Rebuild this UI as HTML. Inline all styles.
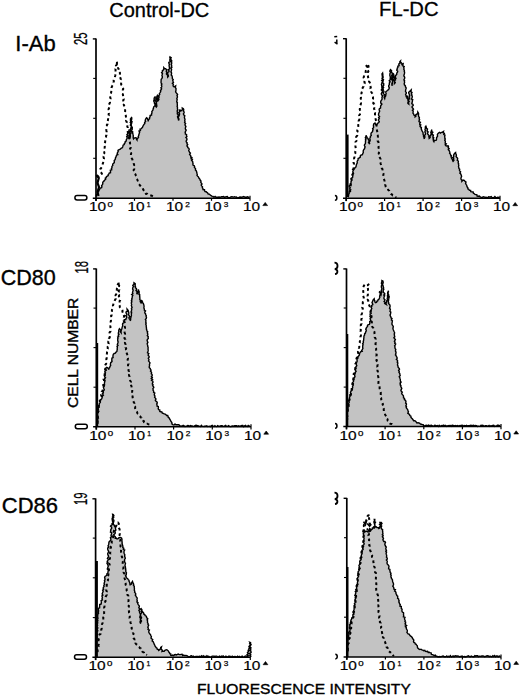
<!DOCTYPE html><html><head><meta charset="utf-8"><style>html,body{margin:0;padding:0;background:#fff;width:520px;height:698px;overflow:hidden;}svg{display:block;position:absolute;left:0;top:0;}text{font-family:"Liberation Sans",sans-serif;fill:#000;}</style></head><body>
<svg width="520" height="698" viewBox="0 0 520 698">
<text x="109.3" y="16.9" font-size="20" stroke="#000" stroke-width="0.3">Control-DC</text>
<text x="379.1" y="16.0" font-size="20" textLength="59.4" lengthAdjust="spacingAndGlyphs" stroke="#000" stroke-width="0.3">FL-DC</text>
<text x="15.3" y="51.2" font-size="22" stroke="#000" stroke-width="0.35">I-Ab</text>
<text x="0.7" y="284.5" font-size="21.5" stroke="#000" stroke-width="0.35">CD80</text>
<text x="1.8" y="513.0" font-size="21.5" textLength="56.2" lengthAdjust="spacingAndGlyphs" stroke="#000" stroke-width="0.35">CD86</text>
<text transform="translate(77.8,408.0) rotate(-90)" font-size="14" textLength="110.2" lengthAdjust="spacingAndGlyphs" stroke="#000" stroke-width="0.35">CELL NUMBER</text>
<text x="196.9" y="693.6" font-size="14" textLength="213.9" lengthAdjust="spacingAndGlyphs" stroke="#000" stroke-width="0.35">FLUORESCENCE INTENSITY</text>
<g><polygon points="96.3,198.2 96.3,196.5 96.4,195.5 96.6,194.6 97.6,194.0 97.8,193.0 97.7,191.8 98.8,191.1 99.1,190.1 99.7,189.2 100.3,188.0 101.6,187.7 101.9,186.7 101.6,185.6 102.4,184.7 102.8,183.8 102.7,182.6 103.2,181.6 104.1,180.9 104.7,180.0 105.6,179.5 105.3,178.2 106.2,177.7 106.4,176.7 107.3,176.2 108.2,175.7 108.2,174.6 108.9,173.9 109.2,173.0 110.5,172.7 110.5,171.5 110.3,170.3 111.7,169.8 111.4,168.5 112.0,167.7 111.9,166.4 112.8,165.4 112.7,164.2 113.3,163.4 114.3,162.6 114.3,161.5 114.2,160.5 115.0,159.8 115.4,158.9 115.4,157.9 115.9,157.1 116.2,156.2 116.6,155.0 117.8,154.6 117.2,153.5 117.5,152.5 118.2,151.5 118.0,150.4 119.1,149.7 120.3,149.2 121.0,148.4 122.0,148.0 122.6,147.2 122.9,146.2 123.1,145.2 124.2,144.6 124.3,143.5 125.1,142.9 125.1,141.8 126.0,141.2 126.3,140.3 126.4,139.4 127.1,138.6 127.1,137.6 126.7,136.6 127.9,135.9 126.9,134.7 127.5,133.9 127.8,133.0 128.7,132.1 128.9,130.8 129.5,131.7 129.2,132.8 130.0,133.7 129.2,134.8 129.2,135.9 129.6,136.8 129.3,137.9 130.0,138.8 129.8,137.9 130.4,137.0 130.3,136.1 130.3,135.2 130.2,134.3 130.8,133.4 131.0,132.5 130.4,131.5 130.7,130.6 129.9,129.7 130.8,128.8 130.8,127.9 131.3,127.0 131.2,126.1 130.4,125.2 130.6,124.3 131.1,123.4 130.2,122.4 130.9,121.5 130.5,120.6 130.5,119.7 130.5,118.8 131.5,117.9 131.2,117.0 131.8,117.9 131.7,118.9 131.6,119.8 131.0,120.8 132.1,121.7 131.7,122.6 131.6,123.6 131.2,124.6 131.4,125.5 131.4,126.4 132.3,127.3 132.2,128.3 132.3,129.2 131.7,130.2 131.6,131.2 132.8,132.0 132.4,133.0 133.0,133.9 133.1,134.9 133.3,135.8 133.2,136.9 133.2,137.9 133.5,138.8 134.2,138.0 135.3,137.7 136.4,138.1 136.5,139.2 137.0,140.0 137.1,139.1 137.7,138.3 138.5,137.6 138.2,136.5 138.7,135.7 138.8,134.8 139.2,133.9 139.3,133.0 139.7,132.1 139.0,131.0 140.4,130.3 140.0,129.2 141.0,128.8 141.8,128.1 142.5,127.3 142.9,126.3 143.4,125.3 144.0,124.4 144.8,123.5 144.6,122.4 145.6,121.6 145.2,120.4 145.5,119.4 146.0,118.5 146.7,117.7 147.5,118.5 147.7,119.5 148.4,120.3 148.2,121.5 148.0,120.3 148.7,119.4 149.6,118.7 149.5,117.5 150.2,116.7 150.1,115.5 151.6,115.0 151.5,113.8 152.0,112.9 151.8,111.7 152.3,110.8 153.0,110.0 153.1,109.0 153.5,108.0 153.6,107.0 154.4,106.2 154.9,105.2 155.1,104.3 154.4,103.3 154.4,102.3 153.8,101.4 153.8,100.4 154.2,99.4 154.1,98.5 154.4,97.5 155.4,96.5 155.0,97.5 156.0,98.4 156.3,99.3 155.1,100.4 155.8,101.3 156.4,102.2 155.9,103.3 156.7,104.2 156.1,105.2 155.6,106.2 156.3,107.1 156.9,106.2 156.7,105.2 156.2,104.2 156.4,103.3 156.3,102.3 157.2,101.4 156.9,100.4 157.4,99.5 156.8,98.5 156.7,97.5 157.7,96.6 157.3,95.6 156.8,96.7 157.2,97.6 157.5,98.6 157.7,99.5 158.3,100.4 158.9,99.5 158.4,98.4 159.0,97.5 159.0,96.5 158.8,95.4 159.7,94.6 159.4,93.4 160.1,92.6 160.7,91.7 160.4,90.7 161.1,89.8 161.6,88.9 160.9,87.9 161.7,87.0 161.8,86.0 161.2,85.0 161.9,84.1 161.2,83.1 161.0,82.1 161.1,81.2 161.1,80.2 161.2,79.3 161.9,78.4 162.3,77.5 162.3,76.5 161.9,75.5 162.2,74.6 162.5,73.7 161.6,72.6 162.5,71.8 162.3,70.8 163.3,70.0 163.7,68.9 163.8,67.7 164.4,68.5 165.4,68.7 166.2,69.2 166.8,70.1 166.2,71.2 167.0,72.1 166.5,73.2 166.5,74.2 167.5,75.0 167.6,76.0 167.7,77.0 168.4,76.2 168.3,75.2 167.6,74.2 167.7,73.3 167.8,72.4 169.0,71.7 169.0,70.8 168.2,69.7 169.3,69.0 169.6,68.1 169.3,67.1 169.2,66.2 169.1,65.3 169.4,64.3 168.9,63.4 168.8,62.4 170.3,61.6 169.9,60.6 169.8,59.7 170.4,58.8 169.8,57.8 170.0,56.9 171.2,57.7 170.7,58.7 170.8,59.6 171.7,60.5 171.6,61.5 171.6,62.4 171.7,63.4 171.2,64.3 171.7,65.3 171.5,66.2 171.9,67.2 170.8,68.1 171.6,69.1 171.5,70.0 171.3,71.0 170.9,71.9 171.6,72.9 171.5,73.8 171.2,75.0 172.0,75.9 172.3,77.0 172.3,77.9 172.4,78.8 173.2,79.6 172.7,80.6 173.1,81.5 173.5,82.3 172.4,83.3 173.4,84.2 173.1,85.1 173.1,86.0 174.1,86.9 175.6,86.0 175.4,87.0 175.7,87.9 176.1,88.9 175.9,89.8 175.9,90.8 175.6,91.8 176.1,92.7 177.0,93.7 177.6,94.6 177.0,95.5 177.4,96.4 177.4,97.3 176.8,98.2 177.2,99.1 177.1,100.0 176.9,100.9 176.7,101.8 177.4,102.7 177.2,103.6 177.3,104.5 177.4,105.4 177.1,106.3 177.5,107.2 177.4,108.1 177.5,109.0 177.6,110.0 177.1,111.0 177.5,111.9 177.3,112.9 177.3,113.9 178.3,114.8 178.0,115.8 177.5,116.8 177.8,117.7 178.8,118.6 178.9,119.6 178.5,120.6 178.5,119.6 178.1,118.6 178.4,117.7 178.2,116.7 179.1,115.8 179.4,114.9 179.6,113.9 178.7,112.8 179.5,112.0 179.5,111.0 179.4,110.0 180.4,110.1 180.9,111.0 181.8,110.3 182.4,109.4 182.3,108.1 183.4,108.8 183.8,110.0 183.3,111.0 184.1,111.9 184.1,112.9 183.4,113.9 183.7,114.9 184.8,115.7 184.5,116.7 184.4,117.7 184.8,118.7 185.0,119.6 184.7,120.6 185.0,121.5 184.6,122.6 185.6,123.4 185.0,124.5 185.2,125.4 185.9,126.3 185.6,127.3 185.3,128.3 185.5,129.3 186.2,130.2 185.7,131.2 185.1,132.2 185.5,133.0 185.3,134.0 186.6,134.7 186.5,135.7 186.9,136.5 185.9,137.5 186.7,138.4 187.0,139.3 186.7,140.2 186.1,141.2 186.3,142.0 187.2,142.9 186.9,143.8 187.7,144.6 186.9,145.9 187.7,146.7 187.8,147.7 188.9,148.4 189.2,149.4 188.7,150.6 189.2,151.5 189.6,152.4 190.4,153.1 189.6,154.4 190.3,155.2 190.8,156.0 190.7,157.0 191.9,157.6 191.1,158.7 192.4,159.3 191.6,160.5 192.4,161.2 192.8,162.0 192.8,163.0 193.1,163.8 192.9,164.9 194.1,165.5 194.6,166.3 194.4,167.4 195.1,168.1 195.6,168.9 195.4,170.0 196.2,170.7 196.6,171.6 196.8,172.5 197.0,173.5 197.3,174.3 197.0,175.4 197.7,176.2 198.4,176.8 198.7,177.7 199.2,178.5 200.0,179.3 200.2,180.3 201.0,181.1 200.8,182.3 201.4,183.1 202.0,183.9 201.2,185.1 201.7,185.9 202.5,186.7 202.3,187.7 202.9,188.5 203.0,189.6 204.5,189.7 204.6,190.8 205.1,191.7 206.2,191.8 206.9,192.4 207.7,193.0 208.2,194.0 209.3,194.1 210.0,194.8 210.8,195.4 211.8,196.1 213.1,196.4 214.0,197.2 215.1,196.4 216.0,197.2 217.0,197.1 218.0,197.2 219.0,197.0 220.0,197.2 220.9,197.0 221.8,196.6 222.7,196.7 223.7,196.6 224.6,197.5 225.5,196.9 226.4,196.7 227.3,196.6 228.2,197.7 229.1,197.7 230.0,197.4 230.9,196.9 231.9,196.8 232.8,196.9 233.7,197.1 234.6,196.7 235.5,197.1 236.4,196.9 237.3,197.8 238.2,197.9 239.2,197.3 240.1,196.8 241.0,197.9 241.9,196.9 242.8,197.0 243.7,196.5 244.6,197.0 245.5,197.2 246.5,197.2 247.4,196.8 248.3,197.2 249.2,197.2 249.2,198.2" fill="#c3c3c3" stroke="none"/><polyline points="96.5,176.0 98.2,176.5 98.9,175.4 100.0,175.0 100.8,174.1 102.0,173.8 101.2,172.7 100.3,171.8 100.0,170.4 100.3,169.0 101.2,168.0 102.0,167.0 102.0,165.9 102.5,164.9 102.7,163.8 103.1,162.8 103.2,161.7 103.5,160.7 103.5,159.6 104.0,158.6 103.6,157.5 103.6,156.4 104.4,155.4 103.6,154.3 104.3,153.3 104.3,152.2 103.8,151.1 104.7,150.1 104.8,149.0 104.6,147.9 104.8,146.9 104.7,145.8 105.1,144.7 104.6,143.4 105.1,142.3 105.2,141.2 105.3,140.0 105.8,139.1 105.9,138.0 106.1,137.1 106.0,136.0 106.5,135.1 106.4,134.0 106.4,133.0 106.7,131.9 106.4,130.7 106.3,129.5 106.5,128.4 107.0,127.3 107.0,126.1 106.8,124.9 107.7,123.9 107.5,122.7 107.6,121.5 107.9,120.5 108.0,119.5 108.2,118.4 108.2,117.4 107.8,116.3 108.8,115.4 108.6,114.3 108.9,113.3 108.7,112.3 108.8,111.3 109.0,110.3 108.5,109.3 109.0,108.3 109.4,107.2 109.1,106.0 109.0,104.8 109.4,103.7 110.0,102.6 109.9,101.4 109.7,100.4 110.3,99.4 110.6,98.4 110.2,97.4 110.1,96.4 110.3,95.4 110.5,94.3 110.9,93.3 111.2,92.3 111.3,91.2 111.5,90.1 111.6,89.0 111.5,87.8 111.9,86.7 112.4,85.6 113.2,84.6 113.3,83.4 113.4,82.4 113.9,81.4 113.6,80.3 113.8,79.4 114.3,78.4 114.9,77.5 115.0,76.5 115.3,75.4 115.4,74.4 115.1,73.3 115.5,72.2 115.5,71.1 115.6,70.0 115.4,68.9 115.9,67.9 116.4,66.9 115.9,65.7 116.8,64.7 116.9,63.6 116.2,62.4 116.8,61.4 117.0,62.5 116.9,63.6 116.9,64.7 117.6,65.7 118.0,66.8 118.0,67.9 118.6,68.8 118.2,70.1 119.3,70.8 119.2,72.0 120.0,72.9 119.9,74.0 119.8,75.1 120.6,76.0 121.0,77.0 120.4,78.1 120.8,79.2 120.5,80.3 120.8,81.3 121.3,82.3 121.1,83.4 121.2,84.6 122.0,85.5 122.8,86.5 122.8,87.7 123.3,88.8 122.8,90.0 122.8,91.2 123.0,92.3 123.2,93.4 122.8,94.6 123.1,95.7 123.2,96.8 122.9,98.0 123.8,99.1 123.2,100.3 123.6,101.4 123.4,102.5 124.3,103.4 123.7,104.6 124.1,105.6 124.5,106.6 124.3,107.8 125.0,108.9 125.1,110.0 125.2,111.2 124.8,112.4 125.4,113.5 125.4,114.5 125.8,115.5 125.9,116.6 126.2,117.6 126.5,118.6 126.6,119.6 126.0,120.7 126.7,121.7 126.6,122.7 126.3,123.8 127.2,124.6 127.3,125.6 127.3,126.6 127.8,127.6 127.8,128.6 127.8,129.6 127.5,130.8 127.8,132.0 128.0,133.1 128.4,134.2 128.3,135.4 128.9,136.5 128.6,137.6 129.2,138.5 129.2,139.5 130.0,140.4 129.5,141.5 130.0,142.5 130.1,143.5 129.9,144.5 130.1,145.5 130.5,146.5 130.8,147.5 130.0,148.5 130.9,149.5 130.7,150.5 130.7,151.5 131.0,152.5 131.2,153.5 130.9,154.5 130.9,155.6 131.7,156.5 131.5,157.5 131.8,158.5 132.4,159.4 132.5,160.5 133.0,161.5 133.6,162.4 133.7,163.5 134.1,164.6 134.1,165.7 133.5,166.8 133.9,167.9 134.3,169.0 133.6,170.1 134.1,171.2 134.0,172.4 134.8,173.4 135.5,174.3 135.8,175.5 136.2,176.5 136.3,177.7 136.5,178.8 137.3,179.6 137.7,180.6 138.2,181.6 138.4,182.7 138.6,183.8 139.4,184.6 139.9,185.5 140.9,186.0 141.6,186.7 142.3,187.5 142.7,188.5 143.2,189.4 143.6,190.3 144.2,191.2 144.2,192.3 145.3,192.7 145.9,193.9 147.3,193.8 148.1,194.7 150.0,195.2 151.0,195.5 152.0,195.8 152.9,196.3 154.1,196.0 155.0,196.5" fill="none" stroke="#000" stroke-width="2.0" stroke-dasharray="2.8,3.0" stroke-linejoin="round"/><polyline points="96.3,196.5 96.4,195.5 96.6,194.6 97.6,194.0 97.8,193.0 97.7,191.8 98.8,191.1 99.1,190.1 99.7,189.2 100.3,188.0 101.6,187.7 101.9,186.7 101.6,185.6 102.4,184.7 102.8,183.8 102.7,182.6 103.2,181.6 104.1,180.9 104.7,180.0 105.6,179.5 105.3,178.2 106.2,177.7 106.4,176.7 107.3,176.2 108.2,175.7 108.2,174.6 108.9,173.9 109.2,173.0 110.5,172.7 110.5,171.5 110.3,170.3 111.7,169.8 111.4,168.5 112.0,167.7 111.9,166.4 112.8,165.4 112.7,164.2 113.3,163.4 114.3,162.6 114.3,161.5 114.2,160.5 115.0,159.8 115.4,158.9 115.4,157.9 115.9,157.1 116.2,156.2 116.6,155.0 117.8,154.6 117.2,153.5 117.5,152.5 118.2,151.5 118.0,150.4 119.1,149.7 120.3,149.2 121.0,148.4 122.0,148.0 122.6,147.2 122.9,146.2 123.1,145.2 124.2,144.6 124.3,143.5 125.1,142.9 125.1,141.8 126.0,141.2 126.3,140.3 126.4,139.4 127.1,138.6 127.1,137.6 126.7,136.6 127.9,135.9 126.9,134.7 127.5,133.9 127.8,133.0 128.7,132.1 128.9,130.8 129.5,131.7 129.2,132.8 130.0,133.7 129.2,134.8 129.2,135.9 129.6,136.8 129.3,137.9 130.0,138.8 129.8,137.9 130.4,137.0 130.3,136.1 130.3,135.2 130.2,134.3 130.8,133.4 131.0,132.5 130.4,131.5 130.7,130.6 129.9,129.7 130.8,128.8 130.8,127.9 131.3,127.0 131.2,126.1 130.4,125.2 130.6,124.3 131.1,123.4 130.2,122.4 130.9,121.5 130.5,120.6 130.5,119.7 130.5,118.8 131.5,117.9 131.2,117.0 131.8,117.9 131.7,118.9 131.6,119.8 131.0,120.8 132.1,121.7 131.7,122.6 131.6,123.6 131.2,124.6 131.4,125.5 131.4,126.4 132.3,127.3 132.2,128.3 132.3,129.2 131.7,130.2 131.6,131.2 132.8,132.0 132.4,133.0 133.0,133.9 133.1,134.9 133.3,135.8 133.2,136.9 133.2,137.9 133.5,138.8 134.2,138.0 135.3,137.7 136.4,138.1 136.5,139.2 137.0,140.0 137.1,139.1 137.7,138.3 138.5,137.6 138.2,136.5 138.7,135.7 138.8,134.8 139.2,133.9 139.3,133.0 139.7,132.1 139.0,131.0 140.4,130.3 140.0,129.2 141.0,128.8 141.8,128.1 142.5,127.3 142.9,126.3 143.4,125.3 144.0,124.4 144.8,123.5 144.6,122.4 145.6,121.6 145.2,120.4 145.5,119.4 146.0,118.5 146.7,117.7 147.5,118.5 147.7,119.5 148.4,120.3 148.2,121.5 148.0,120.3 148.7,119.4 149.6,118.7 149.5,117.5 150.2,116.7 150.1,115.5 151.6,115.0 151.5,113.8 152.0,112.9 151.8,111.7 152.3,110.8 153.0,110.0 153.1,109.0 153.5,108.0 153.6,107.0 154.4,106.2 154.9,105.2 155.1,104.3 154.4,103.3 154.4,102.3 153.8,101.4 153.8,100.4 154.2,99.4 154.1,98.5 154.4,97.5 155.4,96.5 155.0,97.5 156.0,98.4 156.3,99.3 155.1,100.4 155.8,101.3 156.4,102.2 155.9,103.3 156.7,104.2 156.1,105.2 155.6,106.2 156.3,107.1 156.9,106.2 156.7,105.2 156.2,104.2 156.4,103.3 156.3,102.3 157.2,101.4 156.9,100.4 157.4,99.5 156.8,98.5 156.7,97.5 157.7,96.6 157.3,95.6 156.8,96.7 157.2,97.6 157.5,98.6 157.7,99.5 158.3,100.4 158.9,99.5 158.4,98.4 159.0,97.5 159.0,96.5 158.8,95.4 159.7,94.6 159.4,93.4 160.1,92.6 160.7,91.7 160.4,90.7 161.1,89.8 161.6,88.9 160.9,87.9 161.7,87.0 161.8,86.0 161.2,85.0 161.9,84.1 161.2,83.1 161.0,82.1 161.1,81.2 161.1,80.2 161.2,79.3 161.9,78.4 162.3,77.5 162.3,76.5 161.9,75.5 162.2,74.6 162.5,73.7 161.6,72.6 162.5,71.8 162.3,70.8 163.3,70.0 163.7,68.9 163.8,67.7 164.4,68.5 165.4,68.7 166.2,69.2 166.8,70.1 166.2,71.2 167.0,72.1 166.5,73.2 166.5,74.2 167.5,75.0 167.6,76.0 167.7,77.0 168.4,76.2 168.3,75.2 167.6,74.2 167.7,73.3 167.8,72.4 169.0,71.7 169.0,70.8 168.2,69.7 169.3,69.0 169.6,68.1 169.3,67.1 169.2,66.2 169.1,65.3 169.4,64.3 168.9,63.4 168.8,62.4 170.3,61.6 169.9,60.6 169.8,59.7 170.4,58.8 169.8,57.8 170.0,56.9 171.2,57.7 170.7,58.7 170.8,59.6 171.7,60.5 171.6,61.5 171.6,62.4 171.7,63.4 171.2,64.3 171.7,65.3 171.5,66.2 171.9,67.2 170.8,68.1 171.6,69.1 171.5,70.0 171.3,71.0 170.9,71.9 171.6,72.9 171.5,73.8 171.2,75.0 172.0,75.9 172.3,77.0 172.3,77.9 172.4,78.8 173.2,79.6 172.7,80.6 173.1,81.5 173.5,82.3 172.4,83.3 173.4,84.2 173.1,85.1 173.1,86.0 174.1,86.9 175.6,86.0 175.4,87.0 175.7,87.9 176.1,88.9 175.9,89.8 175.9,90.8 175.6,91.8 176.1,92.7 177.0,93.7 177.6,94.6 177.0,95.5 177.4,96.4 177.4,97.3 176.8,98.2 177.2,99.1 177.1,100.0 176.9,100.9 176.7,101.8 177.4,102.7 177.2,103.6 177.3,104.5 177.4,105.4 177.1,106.3 177.5,107.2 177.4,108.1 177.5,109.0 177.6,110.0 177.1,111.0 177.5,111.9 177.3,112.9 177.3,113.9 178.3,114.8 178.0,115.8 177.5,116.8 177.8,117.7 178.8,118.6 178.9,119.6 178.5,120.6 178.5,119.6 178.1,118.6 178.4,117.7 178.2,116.7 179.1,115.8 179.4,114.9 179.6,113.9 178.7,112.8 179.5,112.0 179.5,111.0 179.4,110.0 180.4,110.1 180.9,111.0 181.8,110.3 182.4,109.4 182.3,108.1 183.4,108.8 183.8,110.0 183.3,111.0 184.1,111.9 184.1,112.9 183.4,113.9 183.7,114.9 184.8,115.7 184.5,116.7 184.4,117.7 184.8,118.7 185.0,119.6 184.7,120.6 185.0,121.5 184.6,122.6 185.6,123.4 185.0,124.5 185.2,125.4 185.9,126.3 185.6,127.3 185.3,128.3 185.5,129.3 186.2,130.2 185.7,131.2 185.1,132.2 185.5,133.0 185.3,134.0 186.6,134.7 186.5,135.7 186.9,136.5 185.9,137.5 186.7,138.4 187.0,139.3 186.7,140.2 186.1,141.2 186.3,142.0 187.2,142.9 186.9,143.8 187.7,144.6 186.9,145.9 187.7,146.7 187.8,147.7 188.9,148.4 189.2,149.4 188.7,150.6 189.2,151.5 189.6,152.4 190.4,153.1 189.6,154.4 190.3,155.2 190.8,156.0 190.7,157.0 191.9,157.6 191.1,158.7 192.4,159.3 191.6,160.5 192.4,161.2 192.8,162.0 192.8,163.0 193.1,163.8 192.9,164.9 194.1,165.5 194.6,166.3 194.4,167.4 195.1,168.1 195.6,168.9 195.4,170.0 196.2,170.7 196.6,171.6 196.8,172.5 197.0,173.5 197.3,174.3 197.0,175.4 197.7,176.2 198.4,176.8 198.7,177.7 199.2,178.5 200.0,179.3 200.2,180.3 201.0,181.1 200.8,182.3 201.4,183.1 202.0,183.9 201.2,185.1 201.7,185.9 202.5,186.7 202.3,187.7 202.9,188.5 203.0,189.6 204.5,189.7 204.6,190.8 205.1,191.7 206.2,191.8 206.9,192.4 207.7,193.0 208.2,194.0 209.3,194.1 210.0,194.8 210.8,195.4 211.8,196.1 213.1,196.4 214.0,197.2 215.1,196.4 216.0,197.2 217.0,197.1 218.0,197.2 219.0,197.0 220.0,197.2 220.9,197.0 221.8,196.6 222.7,196.7 223.7,196.6 224.6,197.5 225.5,196.9 226.4,196.7 227.3,196.6 228.2,197.7 229.1,197.7 230.0,197.4 230.9,196.9 231.9,196.8 232.8,196.9 233.7,197.1 234.6,196.7 235.5,197.1 236.4,196.9 237.3,197.8 238.2,197.9 239.2,197.3 240.1,196.8 241.0,197.9 241.9,196.9 242.8,197.0 243.7,196.5 244.6,197.0 245.5,197.2 246.5,197.2 247.4,196.8 248.3,197.2 249.2,197.2" fill="none" stroke="#000" stroke-width="1.4" stroke-linejoin="miter"/><path d="M96.5,175 L98.8,178 L97.5,183 L99,187 L97.5,192 L98.5,196" fill="none" stroke="#000" stroke-width="2.2"/><line x1="96.0" y1="38.5" x2="96.0" y2="201.0" stroke="#000" stroke-width="1.7"/><line x1="92.8" y1="38.9" x2="96.0" y2="38.9" stroke="#000" stroke-width="1.4"/><line x1="92.8" y1="198.2" x2="250.0" y2="198.2" stroke="#000" stroke-width="1.5"/><line x1="93.2" y1="78.4" x2="96.0" y2="78.4" stroke="#000" stroke-width="1.1"/><line x1="93.2" y1="118.3" x2="96.0" y2="118.3" stroke="#000" stroke-width="1.1"/><line x1="93.2" y1="158.3" x2="96.0" y2="158.3" stroke="#000" stroke-width="1.1"/><line x1="96.0" y1="198.2" x2="96.0" y2="200.79999999999998" stroke="#000" stroke-width="1.2"/><line x1="134.5" y1="198.2" x2="134.5" y2="200.79999999999998" stroke="#000" stroke-width="1.2"/><line x1="173.0" y1="198.2" x2="173.0" y2="200.79999999999998" stroke="#000" stroke-width="1.2"/><line x1="211.5" y1="198.2" x2="211.5" y2="200.79999999999998" stroke="#000" stroke-width="1.2"/><line x1="250.0" y1="195.7" x2="250.0" y2="200.79999999999998" stroke="#000" stroke-width="1.2"/><text x="88.9" y="211.3" font-size="13" textLength="17.2" lengthAdjust="spacingAndGlyphs" stroke="#000" stroke-width="0.2">10</text><text x="107.4" y="207.3" font-size="8.0" textLength="5.4" lengthAdjust="spacingAndGlyphs" stroke="#000" stroke-width="0.25">0</text><text x="127.4" y="211.3" font-size="13" textLength="17.2" lengthAdjust="spacingAndGlyphs" stroke="#000" stroke-width="0.2">10</text><text x="146.7" y="207.1" font-size="7.2" textLength="3.8" lengthAdjust="spacingAndGlyphs" stroke="#000" stroke-width="0.25">1</text><text x="165.9" y="211.3" font-size="13" textLength="17.2" lengthAdjust="spacingAndGlyphs" stroke="#000" stroke-width="0.2">10</text><text x="185.2" y="207.1" font-size="7.2" textLength="4.6" lengthAdjust="spacingAndGlyphs" stroke="#000" stroke-width="0.25">2</text><text x="204.4" y="211.3" font-size="13" textLength="17.2" lengthAdjust="spacingAndGlyphs" stroke="#000" stroke-width="0.2">10</text><text x="223.7" y="207.1" font-size="7.2" textLength="4.6" lengthAdjust="spacingAndGlyphs" stroke="#000" stroke-width="0.25">3</text><text x="242.9" y="211.3" font-size="13" textLength="17.2" lengthAdjust="spacingAndGlyphs" stroke="#000" stroke-width="0.2">10</text><path d="M262.8,205.6 L265.2,202.4 L267.6,205.6 Z" fill="#000" stroke="#000" stroke-width="0.6" stroke-linejoin="round"/></g>
<g><polygon points="347.8,198.3 347.8,196.5 348.0,195.4 348.4,194.4 349.2,193.5 349.2,192.5 349.3,191.6 350.1,190.7 350.1,189.7 349.7,188.7 350.3,187.8 349.2,186.7 349.3,185.7 350.4,184.8 350.2,183.8 351.1,183.0 350.9,181.9 351.4,181.0 351.6,180.0 351.1,178.9 351.8,178.0 352.7,177.2 352.7,176.2 352.9,175.3 352.6,174.2 353.5,173.4 352.8,172.2 352.9,171.2 353.3,170.2 354.0,169.4 354.5,168.5 355.2,167.6 356.0,166.8 356.2,165.7 356.4,164.6 356.8,163.7 357.3,162.8 357.1,161.7 357.4,160.8 358.1,159.9 358.1,158.5 359.3,157.9 360.3,157.1 360.3,155.8 361.2,155.0 362.4,154.7 362.8,153.5 363.3,152.6 363.2,151.5 363.3,150.5 363.8,149.6 364.5,148.8 364.8,147.8 365.1,146.8 364.4,145.7 364.5,144.7 365.3,143.8 365.5,142.8 365.4,141.8 365.7,140.8 365.4,139.8 366.0,138.9 365.3,137.8 365.8,136.9 366.1,136.0 366.2,135.0 366.1,136.2 366.9,136.8 367.1,137.9 368.0,138.5 368.3,139.4 368.9,140.3 369.2,141.2 368.5,142.5 369.1,143.3 369.7,144.2 369.5,143.2 369.2,142.1 369.9,141.2 370.2,140.2 370.0,139.2 369.8,138.2 370.5,137.2 370.3,136.2 371.3,135.5 370.9,134.2 371.1,133.1 371.9,132.3 372.6,131.5 372.6,130.6 373.1,129.7 372.6,128.7 373.5,127.8 373.6,126.9 373.4,125.9 373.5,125.0 373.9,123.8 375.0,123.0 375.6,124.3 377.0,124.5 377.7,123.3 378.8,122.5 379.3,121.5 378.5,120.6 378.5,119.6 379.3,118.7 378.6,117.7 379.6,116.7 379.0,115.8 378.5,114.8 378.6,113.8 378.9,112.9 379.3,111.9 379.7,111.0 379.1,110.0 379.4,108.7 380.5,108.0 380.6,107.0 380.6,105.9 381.2,105.0 381.9,104.1 380.8,103.1 380.7,102.1 380.8,101.2 381.3,100.3 382.0,99.4 382.1,98.4 381.9,97.4 382.3,96.5 382.3,95.6 381.5,94.6 381.3,93.6 381.8,92.7 382.4,91.8 382.2,90.8 381.3,89.9 382.2,89.0 381.8,88.0 381.9,87.1 381.8,86.2 381.6,85.2 381.4,84.3 381.9,83.4 382.0,82.4 382.9,81.5 381.8,80.5 383.0,79.7 382.0,78.7 382.2,77.8 382.9,76.9 382.9,75.9 382.4,75.0 381.9,74.0 382.6,73.1 382.7,74.0 382.9,75.0 382.1,76.0 383.2,76.9 383.0,77.8 382.3,78.8 383.5,79.7 383.1,80.7 382.5,81.6 382.6,82.6 383.7,83.5 383.7,84.4 383.7,85.4 382.6,86.4 383.6,87.3 382.9,88.3 383.3,89.2 382.9,90.2 383.8,91.0 384.0,91.9 383.2,93.0 383.8,93.9 384.5,94.7 384.0,95.8 384.7,96.6 384.9,97.5 384.7,98.5 384.2,97.4 385.4,96.6 385.8,95.7 385.6,94.7 386.2,93.8 385.8,92.7 385.9,91.6 386.7,91.0 387.6,90.5 388.2,89.8 389.0,88.9 389.3,87.9 388.7,86.6 388.7,85.6 389.3,84.6 389.3,83.7 389.4,82.7 390.1,81.8 389.2,80.8 390.1,79.9 390.1,79.0 390.3,78.1 390.3,77.1 390.1,76.2 389.8,75.2 389.9,74.3 390.0,73.3 390.7,72.4 389.8,71.4 390.0,70.5 390.5,69.6 391.6,70.8 391.3,71.8 392.0,72.7 392.3,73.6 392.4,74.5 391.7,75.5 392.1,76.4 391.2,77.4 391.4,78.3 391.3,79.3 392.3,80.2 392.6,81.1 392.6,82.0 392.1,83.0 391.8,83.9 392.2,84.9 392.2,85.8 391.9,84.9 392.2,84.0 392.5,83.1 392.6,82.2 392.8,81.3 392.9,80.4 392.7,79.5 392.0,78.5 393.1,77.7 392.3,76.7 392.8,75.8 392.5,74.9 393.1,74.0 392.8,73.1 393.6,74.1 393.9,75.3 393.9,76.5 394.3,77.5 394.6,78.5 393.6,79.5 394.1,80.5 394.6,81.5 394.6,82.5 394.5,83.5 395.3,82.7 394.8,81.7 394.5,80.7 395.5,80.0 395.4,79.0 396.0,78.2 394.9,77.1 395.5,76.3 395.7,75.4 396.7,74.4 396.8,73.1 397.5,72.2 397.7,71.3 396.7,70.1 397.2,69.2 397.2,68.2 397.9,67.3 397.8,66.3 399.1,65.7 398.8,64.7 399.0,63.8 400.0,63.2 399.8,61.8 400.5,61.0 400.4,62.0 401.3,62.7 401.9,63.4 401.9,64.4 403.1,63.8 402.9,64.8 402.8,65.8 404.2,66.5 403.7,67.6 404.0,68.5 403.8,69.4 404.4,70.4 404.2,71.3 404.6,72.2 404.5,73.2 404.4,74.1 403.9,75.1 403.9,76.0 404.5,76.9 404.8,77.9 404.4,78.8 403.9,79.8 404.6,80.7 404.4,81.6 404.6,82.6 404.2,83.5 404.4,84.8 405.4,85.8 405.4,86.8 406.1,87.7 406.1,88.6 405.7,89.6 405.6,90.6 405.5,91.6 406.3,92.5 406.3,93.4 405.6,94.4 406.0,95.4 406.3,96.3 406.0,97.3 407.1,96.2 407.6,97.0 406.9,98.1 407.9,98.8 407.8,99.8 408.2,100.6 408.3,101.5 407.9,102.5 407.9,103.5 408.8,104.2 408.7,103.3 408.5,102.4 409.2,101.5 408.6,100.6 408.3,99.6 409.6,98.8 409.0,97.8 409.6,97.0 409.1,96.0 409.8,95.2 409.2,94.2 408.8,93.3 408.7,92.4 409.4,91.5 410.3,90.7 411.2,89.8 411.1,90.7 410.8,91.7 412.0,92.5 411.4,93.5 411.8,94.4 411.7,95.3 412.3,96.2 412.2,97.1 412.0,98.1 411.5,99.0 412.8,99.8 412.3,100.8 412.4,101.7 412.0,102.7 411.8,103.7 413.0,104.5 413.2,105.5 412.1,106.5 412.1,107.4 412.9,108.3 413.5,109.2 412.4,110.3 413.2,111.1 413.1,112.1 413.0,113.3 413.7,114.0 413.9,115.1 415.1,115.7 415.1,116.8 415.9,116.2 415.7,115.0 416.3,114.4 417.3,113.9 417.7,113.1 417.8,112.1 418.4,113.0 418.6,113.9 418.5,114.9 418.5,115.9 418.9,116.9 419.4,117.7 419.1,118.8 419.6,119.6 419.1,120.7 419.0,121.6 420.4,122.3 419.8,123.3 419.7,124.3 420.8,125.0 419.9,126.1 420.5,126.9 421.4,127.6 421.2,128.8 421.6,129.7 421.9,130.7 422.5,131.6 423.0,132.5 423.1,133.4 423.1,134.4 423.6,135.3 423.5,136.3 424.1,137.1 424.3,138.1 424.5,139.0 423.9,138.0 424.9,137.2 424.8,136.3 424.5,135.3 425.4,134.5 425.5,133.6 425.1,132.6 424.9,131.6 425.4,130.8 425.0,129.8 425.1,128.9 425.6,128.0 425.2,127.1 425.9,126.2 426.3,127.2 426.5,128.3 427.5,129.1 427.2,130.3 427.2,131.2 428.2,132.0 427.5,133.1 427.7,134.0 428.3,134.8 429.1,135.6 428.8,136.6 429.1,137.5 429.2,138.4 430.1,137.7 429.3,136.5 430.5,135.9 430.9,135.1 430.9,134.1 431.2,133.2 430.7,132.1 432.0,131.6 431.6,130.5 431.9,129.6 431.4,130.6 431.6,131.6 432.8,132.3 432.1,133.4 432.1,134.4 433.4,135.1 433.2,136.1 432.8,137.1 433.8,137.9 432.9,139.0 433.9,139.8 433.3,140.8 433.9,141.7 434.2,140.7 435.3,140.4 436.3,140.1 436.6,139.0 436.5,138.0 436.9,137.2 437.5,136.4 437.5,135.5 437.4,134.5 437.9,133.7 438.6,133.0 439.4,132.3 440.6,133.1 441.3,132.3 442.4,132.2 443.4,131.6 443.1,132.7 444.4,133.4 443.8,134.5 445.0,135.2 444.7,136.3 444.8,137.3 444.8,138.2 445.3,139.1 444.7,140.2 445.3,141.1 445.4,142.0 445.1,143.0 446.3,143.8 445.2,144.9 446.0,145.8 447.1,146.0 448.1,145.8 448.5,146.7 448.1,147.7 449.1,148.5 448.3,149.6 449.1,150.4 449.4,151.3 449.9,152.2 449.6,153.3 450.4,154.1 450.6,155.0 451.4,155.7 451.0,156.9 452.3,157.5 451.6,158.8 452.7,159.4 452.6,160.5 453.1,161.3 453.9,160.4 453.5,159.3 453.7,158.3 453.4,157.3 453.8,156.3 453.6,155.1 454.1,154.1 454.7,153.2 455.6,152.5 455.7,153.5 456.2,154.5 456.4,155.5 456.1,156.6 456.9,157.5 457.6,158.3 457.6,159.2 457.2,160.3 458.2,161.0 458.4,161.9 458.1,162.9 458.7,163.8 458.5,164.7 458.8,165.6 458.5,166.6 458.8,167.5 458.9,168.4 459.7,169.2 459.4,170.2 459.9,171.1 460.6,171.9 459.8,173.1 460.6,173.8 461.1,174.7 461.4,175.6 461.6,176.5 461.1,177.6 460.9,178.6 461.2,179.5 461.9,180.3 461.9,181.3 463.1,180.0 464.2,180.4 465.0,181.3 466.0,182.1 465.6,183.4 466.1,184.3 466.7,185.2 466.9,186.3 467.2,187.2 467.9,187.8 467.8,188.9 468.8,189.4 469.4,190.3 470.6,190.4 470.8,191.7 471.9,191.9 473.1,192.0 473.4,193.2 474.3,193.7 475.0,194.4 476.0,194.6 476.9,194.8 477.1,196.2 478.1,196.3 479.4,196.0 480.2,197.0 481.3,197.3 482.2,197.9 483.1,196.8 484.0,196.9 484.9,197.4 485.9,197.3 486.8,197.5 487.7,197.7 488.6,196.8 489.5,197.0 490.4,197.0 491.3,196.6 492.2,197.8 493.1,197.6 494.0,197.5 494.9,196.5 495.9,197.7 496.8,197.6 497.7,197.2 498.6,197.5 499.5,197.2 499.5,198.3" fill="#c3c3c3" stroke="none"/><polyline points="347.8,197.0 348.2,196.1 348.3,195.1 348.6,194.1 349.2,193.2 349.4,192.2 350.2,191.5 350.1,190.4 350.6,189.4 350.7,188.3 350.9,187.3 350.9,186.2 350.6,185.1 351.0,184.0 350.9,183.0 351.1,181.9 351.6,180.9 351.6,179.7 351.5,178.6 352.1,177.5 352.6,176.5 352.1,175.2 352.6,174.2 353.1,173.2 352.3,172.0 352.7,171.0 352.7,169.9 353.3,168.9 353.6,167.8 353.5,166.8 353.2,165.7 353.5,164.6 354.0,163.6 353.5,162.4 353.5,161.3 354.3,160.3 354.1,159.2 354.1,158.1 354.5,157.1 354.6,156.2 355.1,155.2 354.8,154.2 355.3,153.2 355.3,152.2 355.3,151.2 355.7,150.2 355.4,149.2 355.7,148.2 355.6,147.2 355.4,146.1 355.4,145.1 355.9,144.1 355.8,143.1 355.5,141.9 356.5,140.9 355.9,139.6 356.4,138.5 356.1,137.4 356.4,136.4 357.3,135.6 356.9,134.5 356.9,133.4 357.0,132.4 357.6,131.5 357.2,130.3 358.0,129.2 358.0,128.1 358.2,126.9 358.3,125.8 358.2,124.6 358.0,123.4 358.7,122.3 358.6,121.1 359.2,120.0 359.4,118.9 359.3,117.7 359.8,116.6 359.1,115.3 360.0,114.3 360.2,113.1 359.9,111.9 360.4,110.8 359.7,109.6 359.9,108.4 359.9,107.3 359.9,106.1 360.5,105.0 360.9,103.9 361.0,102.8 360.8,101.7 361.1,100.6 361.0,99.5 360.7,98.4 361.0,97.3 360.8,96.2 360.9,95.3 361.8,94.4 361.4,93.3 361.7,92.3 362.0,91.4 362.2,90.4 362.0,89.3 362.5,88.3 362.9,87.3 363.6,86.4 363.5,85.3 363.8,84.3 364.7,83.4 364.5,82.3 364.4,81.1 364.6,79.9 364.3,78.8 363.6,77.7 363.9,76.5 364.3,75.3 364.7,74.2 365.5,73.1 365.7,71.9 365.7,70.9 366.3,69.9 366.3,68.9 366.2,67.8 367.0,66.9 366.4,65.8 367.3,64.9 367.2,63.8 367.9,64.9 368.5,66.0 368.5,67.3 368.7,68.4 368.0,69.3 367.6,70.3 368.4,71.4 367.8,72.4 367.7,73.4 367.2,74.3 367.4,75.4 368.0,76.3 368.1,77.4 368.5,78.3 368.4,79.4 369.3,80.3 369.0,81.5 369.7,82.3 370.1,83.3 370.3,84.3 369.9,85.4 370.3,86.3 370.8,87.3 370.4,88.4 371.1,89.3 370.8,90.4 371.1,91.7 371.8,92.8 372.6,93.8 372.4,94.8 372.6,95.8 373.0,96.8 373.0,97.8 373.1,98.8 372.7,99.8 373.2,100.8 373.8,101.9 373.2,103.2 374.2,104.2 374.2,105.4 374.4,106.5 374.3,107.7 374.0,108.8 374.5,109.7 374.7,110.7 374.4,111.8 375.1,112.7 375.0,113.8 375.0,114.8 374.9,115.8 375.0,116.8 375.2,117.8 375.5,118.8 375.8,119.8 376.0,120.8 376.3,121.7 375.8,122.9 376.1,123.8 376.2,124.8 376.6,125.8 377.0,126.9 376.9,128.1 376.7,129.2 377.0,130.4 377.2,131.5 377.7,132.5 377.4,133.5 377.1,134.5 377.8,135.5 377.9,136.5 377.9,137.5 377.8,138.5 377.7,139.7 377.6,140.8 378.4,141.9 378.5,143.1 378.5,144.2 378.3,145.4 378.6,146.5 378.5,147.7 378.9,148.8 378.9,150.0 379.1,151.1 378.9,152.3 378.7,153.6 379.2,154.7 380.0,155.7 379.4,157.0 380.1,158.1 380.6,159.1 380.5,160.3 380.1,161.4 380.4,162.5 380.6,163.5 381.0,164.6 381.3,165.7 381.9,166.8 381.7,168.1 382.5,169.1 382.4,170.4 382.9,171.5 382.9,172.7 383.5,173.8 383.3,175.0 383.4,176.2 383.4,177.4 383.8,178.5 384.2,179.7 384.5,180.8 384.6,181.8 384.9,182.8 385.5,183.8 385.2,184.9 385.6,185.9 385.7,186.9 386.7,188.0 388.0,188.8 388.2,190.0 389.2,190.7 389.7,191.8 390.3,192.7 390.9,193.8 391.9,194.4 392.6,195.4 393.7,195.6 394.5,196.5 395.4,197.2 396.5,197.3" fill="none" stroke="#000" stroke-width="2.0" stroke-dasharray="2.8,3.0" stroke-linejoin="round"/><polyline points="347.8,196.5 348.0,195.4 348.4,194.4 349.2,193.5 349.2,192.5 349.3,191.6 350.1,190.7 350.1,189.7 349.7,188.7 350.3,187.8 349.2,186.7 349.3,185.7 350.4,184.8 350.2,183.8 351.1,183.0 350.9,181.9 351.4,181.0 351.6,180.0 351.1,178.9 351.8,178.0 352.7,177.2 352.7,176.2 352.9,175.3 352.6,174.2 353.5,173.4 352.8,172.2 352.9,171.2 353.3,170.2 354.0,169.4 354.5,168.5 355.2,167.6 356.0,166.8 356.2,165.7 356.4,164.6 356.8,163.7 357.3,162.8 357.1,161.7 357.4,160.8 358.1,159.9 358.1,158.5 359.3,157.9 360.3,157.1 360.3,155.8 361.2,155.0 362.4,154.7 362.8,153.5 363.3,152.6 363.2,151.5 363.3,150.5 363.8,149.6 364.5,148.8 364.8,147.8 365.1,146.8 364.4,145.7 364.5,144.7 365.3,143.8 365.5,142.8 365.4,141.8 365.7,140.8 365.4,139.8 366.0,138.9 365.3,137.8 365.8,136.9 366.1,136.0 366.2,135.0 366.1,136.2 366.9,136.8 367.1,137.9 368.0,138.5 368.3,139.4 368.9,140.3 369.2,141.2 368.5,142.5 369.1,143.3 369.7,144.2 369.5,143.2 369.2,142.1 369.9,141.2 370.2,140.2 370.0,139.2 369.8,138.2 370.5,137.2 370.3,136.2 371.3,135.5 370.9,134.2 371.1,133.1 371.9,132.3 372.6,131.5 372.6,130.6 373.1,129.7 372.6,128.7 373.5,127.8 373.6,126.9 373.4,125.9 373.5,125.0 373.9,123.8 375.0,123.0 375.6,124.3 377.0,124.5 377.7,123.3 378.8,122.5 379.3,121.5 378.5,120.6 378.5,119.6 379.3,118.7 378.6,117.7 379.6,116.7 379.0,115.8 378.5,114.8 378.6,113.8 378.9,112.9 379.3,111.9 379.7,111.0 379.1,110.0 379.4,108.7 380.5,108.0 380.6,107.0 380.6,105.9 381.2,105.0 381.9,104.1 380.8,103.1 380.7,102.1 380.8,101.2 381.3,100.3 382.0,99.4 382.1,98.4 381.9,97.4 382.3,96.5 382.3,95.6 381.5,94.6 381.3,93.6 381.8,92.7 382.4,91.8 382.2,90.8 381.3,89.9 382.2,89.0 381.8,88.0 381.9,87.1 381.8,86.2 381.6,85.2 381.4,84.3 381.9,83.4 382.0,82.4 382.9,81.5 381.8,80.5 383.0,79.7 382.0,78.7 382.2,77.8 382.9,76.9 382.9,75.9 382.4,75.0 381.9,74.0 382.6,73.1 382.7,74.0 382.9,75.0 382.1,76.0 383.2,76.9 383.0,77.8 382.3,78.8 383.5,79.7 383.1,80.7 382.5,81.6 382.6,82.6 383.7,83.5 383.7,84.4 383.7,85.4 382.6,86.4 383.6,87.3 382.9,88.3 383.3,89.2 382.9,90.2 383.8,91.0 384.0,91.9 383.2,93.0 383.8,93.9 384.5,94.7 384.0,95.8 384.7,96.6 384.9,97.5 384.7,98.5 384.2,97.4 385.4,96.6 385.8,95.7 385.6,94.7 386.2,93.8 385.8,92.7 385.9,91.6 386.7,91.0 387.6,90.5 388.2,89.8 389.0,88.9 389.3,87.9 388.7,86.6 388.7,85.6 389.3,84.6 389.3,83.7 389.4,82.7 390.1,81.8 389.2,80.8 390.1,79.9 390.1,79.0 390.3,78.1 390.3,77.1 390.1,76.2 389.8,75.2 389.9,74.3 390.0,73.3 390.7,72.4 389.8,71.4 390.0,70.5 390.5,69.6 391.6,70.8 391.3,71.8 392.0,72.7 392.3,73.6 392.4,74.5 391.7,75.5 392.1,76.4 391.2,77.4 391.4,78.3 391.3,79.3 392.3,80.2 392.6,81.1 392.6,82.0 392.1,83.0 391.8,83.9 392.2,84.9 392.2,85.8 391.9,84.9 392.2,84.0 392.5,83.1 392.6,82.2 392.8,81.3 392.9,80.4 392.7,79.5 392.0,78.5 393.1,77.7 392.3,76.7 392.8,75.8 392.5,74.9 393.1,74.0 392.8,73.1 393.6,74.1 393.9,75.3 393.9,76.5 394.3,77.5 394.6,78.5 393.6,79.5 394.1,80.5 394.6,81.5 394.6,82.5 394.5,83.5 395.3,82.7 394.8,81.7 394.5,80.7 395.5,80.0 395.4,79.0 396.0,78.2 394.9,77.1 395.5,76.3 395.7,75.4 396.7,74.4 396.8,73.1 397.5,72.2 397.7,71.3 396.7,70.1 397.2,69.2 397.2,68.2 397.9,67.3 397.8,66.3 399.1,65.7 398.8,64.7 399.0,63.8 400.0,63.2 399.8,61.8 400.5,61.0 400.4,62.0 401.3,62.7 401.9,63.4 401.9,64.4 403.1,63.8 402.9,64.8 402.8,65.8 404.2,66.5 403.7,67.6 404.0,68.5 403.8,69.4 404.4,70.4 404.2,71.3 404.6,72.2 404.5,73.2 404.4,74.1 403.9,75.1 403.9,76.0 404.5,76.9 404.8,77.9 404.4,78.8 403.9,79.8 404.6,80.7 404.4,81.6 404.6,82.6 404.2,83.5 404.4,84.8 405.4,85.8 405.4,86.8 406.1,87.7 406.1,88.6 405.7,89.6 405.6,90.6 405.5,91.6 406.3,92.5 406.3,93.4 405.6,94.4 406.0,95.4 406.3,96.3 406.0,97.3 407.1,96.2 407.6,97.0 406.9,98.1 407.9,98.8 407.8,99.8 408.2,100.6 408.3,101.5 407.9,102.5 407.9,103.5 408.8,104.2 408.7,103.3 408.5,102.4 409.2,101.5 408.6,100.6 408.3,99.6 409.6,98.8 409.0,97.8 409.6,97.0 409.1,96.0 409.8,95.2 409.2,94.2 408.8,93.3 408.7,92.4 409.4,91.5 410.3,90.7 411.2,89.8 411.1,90.7 410.8,91.7 412.0,92.5 411.4,93.5 411.8,94.4 411.7,95.3 412.3,96.2 412.2,97.1 412.0,98.1 411.5,99.0 412.8,99.8 412.3,100.8 412.4,101.7 412.0,102.7 411.8,103.7 413.0,104.5 413.2,105.5 412.1,106.5 412.1,107.4 412.9,108.3 413.5,109.2 412.4,110.3 413.2,111.1 413.1,112.1 413.0,113.3 413.7,114.0 413.9,115.1 415.1,115.7 415.1,116.8 415.9,116.2 415.7,115.0 416.3,114.4 417.3,113.9 417.7,113.1 417.8,112.1 418.4,113.0 418.6,113.9 418.5,114.9 418.5,115.9 418.9,116.9 419.4,117.7 419.1,118.8 419.6,119.6 419.1,120.7 419.0,121.6 420.4,122.3 419.8,123.3 419.7,124.3 420.8,125.0 419.9,126.1 420.5,126.9 421.4,127.6 421.2,128.8 421.6,129.7 421.9,130.7 422.5,131.6 423.0,132.5 423.1,133.4 423.1,134.4 423.6,135.3 423.5,136.3 424.1,137.1 424.3,138.1 424.5,139.0 423.9,138.0 424.9,137.2 424.8,136.3 424.5,135.3 425.4,134.5 425.5,133.6 425.1,132.6 424.9,131.6 425.4,130.8 425.0,129.8 425.1,128.9 425.6,128.0 425.2,127.1 425.9,126.2 426.3,127.2 426.5,128.3 427.5,129.1 427.2,130.3 427.2,131.2 428.2,132.0 427.5,133.1 427.7,134.0 428.3,134.8 429.1,135.6 428.8,136.6 429.1,137.5 429.2,138.4 430.1,137.7 429.3,136.5 430.5,135.9 430.9,135.1 430.9,134.1 431.2,133.2 430.7,132.1 432.0,131.6 431.6,130.5 431.9,129.6 431.4,130.6 431.6,131.6 432.8,132.3 432.1,133.4 432.1,134.4 433.4,135.1 433.2,136.1 432.8,137.1 433.8,137.9 432.9,139.0 433.9,139.8 433.3,140.8 433.9,141.7 434.2,140.7 435.3,140.4 436.3,140.1 436.6,139.0 436.5,138.0 436.9,137.2 437.5,136.4 437.5,135.5 437.4,134.5 437.9,133.7 438.6,133.0 439.4,132.3 440.6,133.1 441.3,132.3 442.4,132.2 443.4,131.6 443.1,132.7 444.4,133.4 443.8,134.5 445.0,135.2 444.7,136.3 444.8,137.3 444.8,138.2 445.3,139.1 444.7,140.2 445.3,141.1 445.4,142.0 445.1,143.0 446.3,143.8 445.2,144.9 446.0,145.8 447.1,146.0 448.1,145.8 448.5,146.7 448.1,147.7 449.1,148.5 448.3,149.6 449.1,150.4 449.4,151.3 449.9,152.2 449.6,153.3 450.4,154.1 450.6,155.0 451.4,155.7 451.0,156.9 452.3,157.5 451.6,158.8 452.7,159.4 452.6,160.5 453.1,161.3 453.9,160.4 453.5,159.3 453.7,158.3 453.4,157.3 453.8,156.3 453.6,155.1 454.1,154.1 454.7,153.2 455.6,152.5 455.7,153.5 456.2,154.5 456.4,155.5 456.1,156.6 456.9,157.5 457.6,158.3 457.6,159.2 457.2,160.3 458.2,161.0 458.4,161.9 458.1,162.9 458.7,163.8 458.5,164.7 458.8,165.6 458.5,166.6 458.8,167.5 458.9,168.4 459.7,169.2 459.4,170.2 459.9,171.1 460.6,171.9 459.8,173.1 460.6,173.8 461.1,174.7 461.4,175.6 461.6,176.5 461.1,177.6 460.9,178.6 461.2,179.5 461.9,180.3 461.9,181.3 463.1,180.0 464.2,180.4 465.0,181.3 466.0,182.1 465.6,183.4 466.1,184.3 466.7,185.2 466.9,186.3 467.2,187.2 467.9,187.8 467.8,188.9 468.8,189.4 469.4,190.3 470.6,190.4 470.8,191.7 471.9,191.9 473.1,192.0 473.4,193.2 474.3,193.7 475.0,194.4 476.0,194.6 476.9,194.8 477.1,196.2 478.1,196.3 479.4,196.0 480.2,197.0 481.3,197.3 482.2,197.9 483.1,196.8 484.0,196.9 484.9,197.4 485.9,197.3 486.8,197.5 487.7,197.7 488.6,196.8 489.5,197.0 490.4,197.0 491.3,196.6 492.2,197.8 493.1,197.6 494.0,197.5 494.9,196.5 495.9,197.7 496.8,197.6 497.7,197.2 498.6,197.5 499.5,197.2" fill="none" stroke="#000" stroke-width="1.4" stroke-linejoin="miter"/><line x1="347.6" y1="134.6" x2="347.6" y2="197" stroke="#000" stroke-width="2"/><line x1="346.2" y1="38.3" x2="346.2" y2="201.10000000000002" stroke="#000" stroke-width="1.7"/><line x1="343.0" y1="38.699999999999996" x2="346.2" y2="38.699999999999996" stroke="#000" stroke-width="1.4"/><line x1="343.0" y1="198.3" x2="500.0" y2="198.3" stroke="#000" stroke-width="1.5"/><line x1="343.4" y1="78.3" x2="346.2" y2="78.3" stroke="#000" stroke-width="1.1"/><line x1="343.4" y1="118.3" x2="346.2" y2="118.3" stroke="#000" stroke-width="1.1"/><line x1="343.4" y1="158.3" x2="346.2" y2="158.3" stroke="#000" stroke-width="1.1"/><line x1="346.2" y1="198.3" x2="346.2" y2="200.9" stroke="#000" stroke-width="1.2"/><line x1="384.6" y1="198.3" x2="384.6" y2="200.9" stroke="#000" stroke-width="1.2"/><line x1="423.1" y1="198.3" x2="423.1" y2="200.9" stroke="#000" stroke-width="1.2"/><line x1="461.6" y1="198.3" x2="461.6" y2="200.9" stroke="#000" stroke-width="1.2"/><line x1="500.0" y1="195.8" x2="500.0" y2="200.9" stroke="#000" stroke-width="1.2"/><text x="339.1" y="211.4" font-size="13" textLength="17.2" lengthAdjust="spacingAndGlyphs" stroke="#000" stroke-width="0.2">10</text><text x="357.6" y="207.4" font-size="8.0" textLength="5.4" lengthAdjust="spacingAndGlyphs" stroke="#000" stroke-width="0.25">0</text><text x="377.5" y="211.4" font-size="13" textLength="17.2" lengthAdjust="spacingAndGlyphs" stroke="#000" stroke-width="0.2">10</text><text x="396.8" y="207.2" font-size="7.2" textLength="3.8" lengthAdjust="spacingAndGlyphs" stroke="#000" stroke-width="0.25">1</text><text x="416.0" y="211.4" font-size="13" textLength="17.2" lengthAdjust="spacingAndGlyphs" stroke="#000" stroke-width="0.2">10</text><text x="435.3" y="207.2" font-size="7.2" textLength="4.6" lengthAdjust="spacingAndGlyphs" stroke="#000" stroke-width="0.25">2</text><text x="454.4" y="211.4" font-size="13" textLength="17.2" lengthAdjust="spacingAndGlyphs" stroke="#000" stroke-width="0.2">10</text><text x="473.8" y="207.2" font-size="7.2" textLength="4.6" lengthAdjust="spacingAndGlyphs" stroke="#000" stroke-width="0.25">3</text><text x="492.9" y="211.4" font-size="13" textLength="17.2" lengthAdjust="spacingAndGlyphs" stroke="#000" stroke-width="0.2">10</text><path d="M512.8,205.7 L515.2,202.5 L517.6,205.7 Z" fill="#000" stroke="#000" stroke-width="0.6" stroke-linejoin="round"/></g>
<g><polygon points="97.3,426.8 97.3,424.0 97.7,423.0 97.6,422.1 97.9,421.1 97.7,420.1 97.6,419.1 97.4,418.1 97.2,417.2 97.5,416.2 97.8,415.2 97.1,414.2 97.6,413.3 98.2,412.4 98.2,411.4 98.0,410.4 98.4,409.5 98.1,408.4 98.5,407.5 98.7,406.5 99.2,405.6 99.2,404.6 99.3,403.7 99.9,402.8 100.4,402.0 99.6,400.8 100.3,400.0 101.1,399.4 101.8,398.7 102.1,397.7 102.2,396.7 102.5,395.9 103.4,395.1 102.4,393.9 103.2,393.1 103.4,392.2 103.0,391.2 104.0,390.4 104.3,389.5 103.8,388.5 103.4,387.4 104.1,386.6 104.2,385.7 104.6,384.8 104.4,383.8 104.5,382.8 104.7,381.8 105.1,380.8 104.7,379.8 104.6,378.8 105.5,377.8 104.5,376.8 105.0,375.8 105.3,374.9 105.0,373.9 105.5,372.9 104.7,371.9 105.3,371.0 106.3,370.3 105.8,369.1 105.8,368.0 106.7,367.3 107.7,367.8 108.3,368.7 109.0,369.6 108.7,368.5 109.5,367.9 109.8,367.0 110.2,366.2 110.7,365.4 110.4,364.4 110.5,363.5 110.7,362.6 111.6,361.9 112.1,361.1 111.7,360.1 111.9,359.2 111.9,358.1 113.1,357.5 112.9,356.3 113.1,355.2 113.3,354.3 114.2,353.5 115.3,353.2 115.9,352.3 116.9,351.4 117.1,350.0 117.3,349.1 117.2,348.2 117.4,347.2 117.0,346.3 118.0,345.4 117.3,344.5 117.7,343.6 118.0,342.7 118.1,341.7 117.7,340.8 117.8,339.9 117.6,338.9 118.1,338.0 117.6,337.0 118.7,336.2 118.2,335.2 119.0,334.3 118.3,333.3 118.5,332.4 118.8,331.5 118.7,330.5 119.1,329.6 119.4,328.7 120.2,329.5 120.9,330.4 120.4,331.8 121.1,332.7 121.0,331.7 121.2,330.7 121.4,329.7 121.9,328.8 122.0,327.8 122.3,326.9 122.6,326.0 122.7,325.1 122.5,324.2 122.8,323.3 123.9,322.8 124.2,321.9 124.2,320.8 124.3,319.7 125.8,319.5 126.0,318.5 126.7,317.6 126.6,316.7 125.8,315.7 126.9,314.8 126.7,313.9 126.0,312.8 126.1,311.9 127.5,311.1 127.2,310.2 127.1,309.2 127.8,310.0 128.3,310.8 128.6,311.8 128.8,312.8 128.8,313.8 128.6,314.9 129.4,315.8 129.8,316.7 128.9,317.9 129.3,318.9 130.3,319.7 130.0,320.8 130.7,319.9 130.5,318.8 130.9,317.9 130.9,316.8 131.4,315.9 131.4,314.9 131.2,313.8 131.7,312.9 130.9,311.9 131.6,311.1 131.4,310.1 131.8,309.2 131.4,308.3 132.1,307.4 131.7,306.4 131.3,305.5 131.7,304.6 131.4,303.7 131.3,302.7 131.9,301.9 131.3,300.9 132.0,300.0 131.6,299.1 132.1,298.2 132.2,297.3 132.3,296.4 132.8,295.5 131.7,294.5 132.9,293.7 132.5,292.8 132.7,291.9 132.9,291.0 133.2,290.1 132.6,289.1 132.7,288.2 132.9,287.3 133.7,286.5 132.8,285.3 133.7,284.6 134.0,283.7 134.0,282.7 135.2,283.5 135.2,285.0 135.3,285.9 135.5,286.8 135.4,287.8 136.3,288.5 136.7,289.4 136.0,290.5 136.9,291.4 137.1,292.3 136.8,293.4 137.5,294.2 137.1,293.1 138.3,292.4 138.4,291.5 138.2,290.5 138.7,289.6 138.3,290.6 139.1,291.4 139.1,292.3 139.2,293.2 138.9,294.2 139.8,294.9 139.6,295.9 139.8,296.8 139.8,297.7 139.9,298.7 139.8,299.7 140.7,300.5 140.2,301.7 140.9,302.5 141.0,303.5 141.3,302.6 141.2,301.7 141.8,300.9 142.1,300.0 141.8,301.1 142.5,301.8 142.6,302.8 143.3,303.5 143.7,304.4 143.9,305.4 144.1,306.3 143.9,307.3 144.0,308.3 144.4,309.2 144.3,310.2 145.5,310.9 144.8,312.0 144.8,313.0 145.6,313.8 145.6,314.7 146.3,315.6 146.1,316.6 146.5,317.5 146.3,318.4 145.4,319.4 145.9,320.3 145.9,321.3 145.7,322.2 146.2,323.1 145.7,324.1 146.2,325.1 146.2,326.1 146.3,327.1 146.5,328.1 146.4,329.1 146.8,330.0 146.9,331.0 147.7,331.8 147.3,332.9 147.7,333.8 147.8,334.8 147.3,335.7 148.3,336.7 148.1,337.7 148.3,338.6 147.3,339.6 147.1,340.6 147.5,341.5 147.9,342.5 147.2,343.5 147.3,344.4 147.7,345.4 147.7,346.3 148.1,347.2 148.1,348.1 148.0,349.1 148.2,350.0 148.1,350.9 147.9,351.9 147.5,352.8 148.8,353.6 148.2,354.6 148.2,355.5 149.1,356.3 149.1,357.2 148.3,358.3 148.8,359.1 149.0,360.0 148.5,361.0 149.3,361.9 150.0,362.8 149.6,363.9 149.4,364.8 149.6,365.8 149.2,366.8 149.3,367.7 150.2,368.5 150.5,369.3 151.1,370.1 150.5,371.2 151.3,371.9 151.6,372.8 151.3,373.8 152.1,374.6 152.2,375.6 151.4,376.6 152.3,377.5 151.3,378.5 152.6,379.3 151.6,380.4 152.8,381.2 153.0,382.1 152.5,383.1 152.3,384.0 153.1,384.8 152.6,385.8 153.5,386.6 153.8,387.5 152.9,388.6 153.1,389.4 153.1,390.4 153.7,391.2 153.6,392.3 154.8,393.0 154.3,394.2 154.4,395.2 155.0,396.1 154.6,397.3 155.4,398.1 156.0,399.0 155.3,400.2 155.8,401.1 157.0,401.9 157.3,402.9 156.7,404.1 157.1,405.0 157.0,406.1 158.3,406.6 158.4,407.7 158.2,408.8 158.8,409.6 159.8,410.0 159.8,411.4 160.9,411.7 162.0,412.0 162.3,413.1 163.3,413.3 164.2,413.9 165.2,414.2 166.0,414.7 166.5,415.5 167.7,415.5 168.1,416.5 168.3,417.6 169.4,418.1 169.7,419.2 170.4,420.0 170.7,421.0 171.4,421.8 171.9,422.7 171.9,423.9 172.7,424.6 174.0,424.9 175.0,424.0 175.8,424.7 176.8,424.7 177.9,424.7 178.9,424.7 179.6,425.6 180.5,426.3 181.4,425.9 182.3,426.1 183.2,425.4 184.1,425.8 185.0,426.4 185.9,426.2 186.9,425.9 187.8,425.5 188.7,425.6 189.6,426.3 190.5,425.6 191.4,426.0 192.3,425.9 193.2,426.4 194.1,426.3 195.0,425.5 195.9,425.2 196.8,425.5 197.7,425.8 198.6,426.0 199.6,426.4 200.5,426.5 201.4,425.3 202.3,426.4 203.2,426.4 204.1,426.5 205.0,426.0 205.9,426.1 206.8,425.7 207.7,426.5 208.6,426.4 209.5,426.3 210.4,426.6 211.3,425.8 212.2,425.4 213.1,426.1 214.0,426.4 214.9,425.6 215.8,426.4 216.7,426.6 217.6,425.6 218.5,426.1 219.4,426.2 220.3,426.0 221.2,425.6 222.1,425.7 223.0,426.4 223.9,426.4 224.8,425.9 225.7,425.4 226.6,426.4 227.5,426.4 228.4,425.6 229.3,426.1 230.2,426.6 231.1,426.5 232.0,426.0 232.9,426.0 233.8,426.1 234.7,425.6 235.6,425.6 236.5,425.6 237.4,426.3 238.3,425.8 239.2,426.1 240.1,425.9 241.0,426.0 241.9,425.5 242.8,425.4 243.7,426.7 244.6,425.8 245.5,425.4 246.4,426.2 247.3,426.4 248.2,425.5 249.1,426.1 250.0,426.0 250.0,426.8" fill="#c3c3c3" stroke="none"/><polyline points="97.5,424.0 97.4,423.0 97.6,422.0 97.1,421.0 97.2,420.0 98.2,419.0 98.1,418.0 97.8,417.0 97.9,416.0 97.6,415.0 98.2,414.0 97.9,413.0 98.0,412.0 98.6,411.1 98.7,410.1 98.9,409.1 99.3,408.1 98.8,407.0 98.7,405.9 99.1,404.9 99.3,403.9 99.4,402.9 100.0,402.0 99.8,400.9 100.5,400.0 101.0,399.1 100.8,398.0 101.5,397.1 101.7,396.1 101.0,394.9 101.8,394.0 101.8,393.0 101.7,391.9 102.7,391.1 102.5,390.0 102.4,389.0 102.8,388.0 103.0,387.0 103.4,386.1 103.2,385.0 103.1,384.0 103.2,383.0 103.1,382.0 104.0,381.1 104.1,380.1 103.4,379.0 103.4,377.9 103.7,377.0 103.9,376.0 104.6,375.0 104.7,374.0 104.7,373.0 104.5,372.0 104.2,370.9 105.1,370.0 105.2,368.9 105.4,367.9 105.9,366.9 105.1,365.7 105.4,364.7 106.2,363.8 106.1,362.7 106.7,361.6 106.5,360.4 106.3,359.2 106.7,358.1 106.7,356.9 107.1,355.9 106.6,354.8 106.9,353.8 107.0,352.8 107.0,351.8 107.5,350.8 107.3,349.8 107.8,348.8 107.7,347.7 107.7,346.7 108.4,345.8 107.9,344.6 108.7,343.7 108.3,342.6 108.3,341.6 109.3,340.7 109.0,339.6 108.9,338.5 109.7,337.6 109.8,336.6 109.9,335.6 109.3,334.4 109.7,333.5 109.5,332.4 110.5,331.5 110.2,330.4 110.6,329.4 110.5,328.3 110.4,327.2 110.4,326.1 111.0,325.1 110.7,324.0 110.9,322.9 110.6,321.8 111.0,320.8 110.8,319.8 110.7,318.8 111.4,317.8 111.3,316.8 111.0,315.8 111.8,314.8 111.5,313.8 111.5,312.6 111.9,311.5 111.9,310.3 112.2,309.2 112.7,308.1 113.2,307.0 112.9,305.7 113.3,304.6 113.4,303.3 114.1,302.3 114.4,301.1 115.0,300.0 115.6,298.9 115.1,297.6 116.2,296.6 115.5,295.3 116.2,294.2 116.8,293.1 116.7,291.9 116.5,290.7 116.9,289.6 116.9,288.4 117.3,287.3 117.3,286.2 117.5,285.2 117.9,284.1 118.7,283.3 118.5,282.1 118.1,283.2 118.2,284.3 119.2,285.3 119.0,286.4 118.5,287.5 119.0,288.5 119.3,289.7 118.6,290.8 118.9,291.9 118.1,293.0 118.5,294.2 119.2,295.0 118.8,296.2 119.5,297.1 120.0,298.0 120.4,298.9 120.2,300.0 119.6,301.1 119.6,302.3 119.6,303.5 119.0,304.6 119.7,305.7 119.8,307.1 120.8,308.1 121.9,309.1 122.5,310.4 122.4,311.5 122.9,312.7 122.5,313.8 123.6,314.8 124.2,316.2 123.8,317.3 123.7,318.5 124.1,319.7 123.7,320.8 124.5,321.8 124.8,322.9 124.8,324.2 124.7,325.2 124.8,326.2 125.0,327.2 125.0,328.2 124.6,329.2 124.5,330.2 124.4,331.2 124.6,332.3 125.0,333.3 125.1,334.3 124.4,335.3 124.7,336.3 124.6,337.3 124.5,338.3 125.3,339.3 124.7,340.4 125.3,341.3 124.9,342.4 125.1,343.4 125.6,344.4 125.7,345.4 126.3,346.3 125.6,347.5 126.2,348.4 125.9,349.5 126.7,350.4 126.9,351.4 126.4,352.5 126.9,353.5 127.2,354.5 127.5,355.5 127.4,356.6 127.3,357.6 128.0,358.6 127.6,359.6 127.8,360.6 127.9,361.7 128.0,362.7 128.5,363.8 128.0,365.0 128.0,366.2 128.0,367.3 128.7,368.4 128.6,369.6 128.5,370.6 129.0,371.6 128.8,372.7 129.6,373.6 129.0,374.7 129.1,375.7 129.7,376.7 129.8,377.7 129.9,378.7 130.1,379.8 130.2,380.8 130.9,381.8 130.1,383.0 131.0,383.9 130.9,385.0 131.4,385.9 131.6,386.9 131.7,387.9 131.3,389.0 132.2,389.8 132.3,390.8 132.1,391.9 132.0,393.1 132.6,394.2 132.9,395.3 132.5,396.6 132.7,397.7 132.9,398.9 133.2,400.0 133.3,401.2 133.8,402.3 134.4,403.2 133.9,404.4 134.2,405.4 135.1,406.3 135.2,407.3 135.1,408.4 135.3,409.4 135.5,410.4 136.3,411.1 137.0,411.9 137.3,412.9 137.8,413.8 138.9,414.3 139.3,415.5 140.2,416.2 140.5,417.3 141.6,417.7 141.9,418.8 142.5,419.6 142.9,420.6 143.9,421.2 144.0,422.4 144.8,423.1 145.8,423.9 147.1,423.7 148.2,424.2 149.4,424.4 150.5,424.8" fill="none" stroke="#000" stroke-width="2.0" stroke-dasharray="2.8,3.0" stroke-linejoin="round"/><polyline points="97.3,424.0 97.7,423.0 97.6,422.1 97.9,421.1 97.7,420.1 97.6,419.1 97.4,418.1 97.2,417.2 97.5,416.2 97.8,415.2 97.1,414.2 97.6,413.3 98.2,412.4 98.2,411.4 98.0,410.4 98.4,409.5 98.1,408.4 98.5,407.5 98.7,406.5 99.2,405.6 99.2,404.6 99.3,403.7 99.9,402.8 100.4,402.0 99.6,400.8 100.3,400.0 101.1,399.4 101.8,398.7 102.1,397.7 102.2,396.7 102.5,395.9 103.4,395.1 102.4,393.9 103.2,393.1 103.4,392.2 103.0,391.2 104.0,390.4 104.3,389.5 103.8,388.5 103.4,387.4 104.1,386.6 104.2,385.7 104.6,384.8 104.4,383.8 104.5,382.8 104.7,381.8 105.1,380.8 104.7,379.8 104.6,378.8 105.5,377.8 104.5,376.8 105.0,375.8 105.3,374.9 105.0,373.9 105.5,372.9 104.7,371.9 105.3,371.0 106.3,370.3 105.8,369.1 105.8,368.0 106.7,367.3 107.7,367.8 108.3,368.7 109.0,369.6 108.7,368.5 109.5,367.9 109.8,367.0 110.2,366.2 110.7,365.4 110.4,364.4 110.5,363.5 110.7,362.6 111.6,361.9 112.1,361.1 111.7,360.1 111.9,359.2 111.9,358.1 113.1,357.5 112.9,356.3 113.1,355.2 113.3,354.3 114.2,353.5 115.3,353.2 115.9,352.3 116.9,351.4 117.1,350.0 117.3,349.1 117.2,348.2 117.4,347.2 117.0,346.3 118.0,345.4 117.3,344.5 117.7,343.6 118.0,342.7 118.1,341.7 117.7,340.8 117.8,339.9 117.6,338.9 118.1,338.0 117.6,337.0 118.7,336.2 118.2,335.2 119.0,334.3 118.3,333.3 118.5,332.4 118.8,331.5 118.7,330.5 119.1,329.6 119.4,328.7 120.2,329.5 120.9,330.4 120.4,331.8 121.1,332.7 121.0,331.7 121.2,330.7 121.4,329.7 121.9,328.8 122.0,327.8 122.3,326.9 122.6,326.0 122.7,325.1 122.5,324.2 122.8,323.3 123.9,322.8 124.2,321.9 124.2,320.8 124.3,319.7 125.8,319.5 126.0,318.5 126.7,317.6 126.6,316.7 125.8,315.7 126.9,314.8 126.7,313.9 126.0,312.8 126.1,311.9 127.5,311.1 127.2,310.2 127.1,309.2 127.8,310.0 128.3,310.8 128.6,311.8 128.8,312.8 128.8,313.8 128.6,314.9 129.4,315.8 129.8,316.7 128.9,317.9 129.3,318.9 130.3,319.7 130.0,320.8 130.7,319.9 130.5,318.8 130.9,317.9 130.9,316.8 131.4,315.9 131.4,314.9 131.2,313.8 131.7,312.9 130.9,311.9 131.6,311.1 131.4,310.1 131.8,309.2 131.4,308.3 132.1,307.4 131.7,306.4 131.3,305.5 131.7,304.6 131.4,303.7 131.3,302.7 131.9,301.9 131.3,300.9 132.0,300.0 131.6,299.1 132.1,298.2 132.2,297.3 132.3,296.4 132.8,295.5 131.7,294.5 132.9,293.7 132.5,292.8 132.7,291.9 132.9,291.0 133.2,290.1 132.6,289.1 132.7,288.2 132.9,287.3 133.7,286.5 132.8,285.3 133.7,284.6 134.0,283.7 134.0,282.7 135.2,283.5 135.2,285.0 135.3,285.9 135.5,286.8 135.4,287.8 136.3,288.5 136.7,289.4 136.0,290.5 136.9,291.4 137.1,292.3 136.8,293.4 137.5,294.2 137.1,293.1 138.3,292.4 138.4,291.5 138.2,290.5 138.7,289.6 138.3,290.6 139.1,291.4 139.1,292.3 139.2,293.2 138.9,294.2 139.8,294.9 139.6,295.9 139.8,296.8 139.8,297.7 139.9,298.7 139.8,299.7 140.7,300.5 140.2,301.7 140.9,302.5 141.0,303.5 141.3,302.6 141.2,301.7 141.8,300.9 142.1,300.0 141.8,301.1 142.5,301.8 142.6,302.8 143.3,303.5 143.7,304.4 143.9,305.4 144.1,306.3 143.9,307.3 144.0,308.3 144.4,309.2 144.3,310.2 145.5,310.9 144.8,312.0 144.8,313.0 145.6,313.8 145.6,314.7 146.3,315.6 146.1,316.6 146.5,317.5 146.3,318.4 145.4,319.4 145.9,320.3 145.9,321.3 145.7,322.2 146.2,323.1 145.7,324.1 146.2,325.1 146.2,326.1 146.3,327.1 146.5,328.1 146.4,329.1 146.8,330.0 146.9,331.0 147.7,331.8 147.3,332.9 147.7,333.8 147.8,334.8 147.3,335.7 148.3,336.7 148.1,337.7 148.3,338.6 147.3,339.6 147.1,340.6 147.5,341.5 147.9,342.5 147.2,343.5 147.3,344.4 147.7,345.4 147.7,346.3 148.1,347.2 148.1,348.1 148.0,349.1 148.2,350.0 148.1,350.9 147.9,351.9 147.5,352.8 148.8,353.6 148.2,354.6 148.2,355.5 149.1,356.3 149.1,357.2 148.3,358.3 148.8,359.1 149.0,360.0 148.5,361.0 149.3,361.9 150.0,362.8 149.6,363.9 149.4,364.8 149.6,365.8 149.2,366.8 149.3,367.7 150.2,368.5 150.5,369.3 151.1,370.1 150.5,371.2 151.3,371.9 151.6,372.8 151.3,373.8 152.1,374.6 152.2,375.6 151.4,376.6 152.3,377.5 151.3,378.5 152.6,379.3 151.6,380.4 152.8,381.2 153.0,382.1 152.5,383.1 152.3,384.0 153.1,384.8 152.6,385.8 153.5,386.6 153.8,387.5 152.9,388.6 153.1,389.4 153.1,390.4 153.7,391.2 153.6,392.3 154.8,393.0 154.3,394.2 154.4,395.2 155.0,396.1 154.6,397.3 155.4,398.1 156.0,399.0 155.3,400.2 155.8,401.1 157.0,401.9 157.3,402.9 156.7,404.1 157.1,405.0 157.0,406.1 158.3,406.6 158.4,407.7 158.2,408.8 158.8,409.6 159.8,410.0 159.8,411.4 160.9,411.7 162.0,412.0 162.3,413.1 163.3,413.3 164.2,413.9 165.2,414.2 166.0,414.7 166.5,415.5 167.7,415.5 168.1,416.5 168.3,417.6 169.4,418.1 169.7,419.2 170.4,420.0 170.7,421.0 171.4,421.8 171.9,422.7 171.9,423.9 172.7,424.6 174.0,424.9 175.0,424.0 175.8,424.7 176.8,424.7 177.9,424.7 178.9,424.7 179.6,425.6 180.5,426.3 181.4,425.9 182.3,426.1 183.2,425.4 184.1,425.8 185.0,426.4 185.9,426.2 186.9,425.9 187.8,425.5 188.7,425.6 189.6,426.3 190.5,425.6 191.4,426.0 192.3,425.9 193.2,426.4 194.1,426.3 195.0,425.5 195.9,425.2 196.8,425.5 197.7,425.8 198.6,426.0 199.6,426.4 200.5,426.5 201.4,425.3 202.3,426.4 203.2,426.4 204.1,426.5 205.0,426.0 205.9,426.1 206.8,425.7 207.7,426.5 208.6,426.4 209.5,426.3 210.4,426.6 211.3,425.8 212.2,425.4 213.1,426.1 214.0,426.4 214.9,425.6 215.8,426.4 216.7,426.6 217.6,425.6 218.5,426.1 219.4,426.2 220.3,426.0 221.2,425.6 222.1,425.7 223.0,426.4 223.9,426.4 224.8,425.9 225.7,425.4 226.6,426.4 227.5,426.4 228.4,425.6 229.3,426.1 230.2,426.6 231.1,426.5 232.0,426.0 232.9,426.0 233.8,426.1 234.7,425.6 235.6,425.6 236.5,425.6 237.4,426.3 238.3,425.8 239.2,426.1 240.1,425.9 241.0,426.0 241.9,425.5 242.8,425.4 243.7,426.7 244.6,425.8 245.5,425.4 246.4,426.2 247.3,426.4 248.2,425.5 249.1,426.1 250.0,426.0" fill="none" stroke="#000" stroke-width="1.4" stroke-linejoin="miter"/><line x1="97.2" y1="343" x2="97.2" y2="426" stroke="#000" stroke-width="2"/><line x1="96.3" y1="268.5" x2="96.3" y2="429.6" stroke="#000" stroke-width="1.7"/><line x1="93.1" y1="268.9" x2="96.3" y2="268.9" stroke="#000" stroke-width="1.4"/><line x1="93.1" y1="426.8" x2="251.0" y2="426.8" stroke="#000" stroke-width="1.5"/><line x1="93.5" y1="308.1" x2="96.3" y2="308.1" stroke="#000" stroke-width="1.1"/><line x1="93.5" y1="347.6" x2="96.3" y2="347.6" stroke="#000" stroke-width="1.1"/><line x1="93.5" y1="387.2" x2="96.3" y2="387.2" stroke="#000" stroke-width="1.1"/><line x1="96.3" y1="426.8" x2="96.3" y2="429.40000000000003" stroke="#000" stroke-width="1.2"/><line x1="135.0" y1="426.8" x2="135.0" y2="429.40000000000003" stroke="#000" stroke-width="1.2"/><line x1="173.6" y1="426.8" x2="173.6" y2="429.40000000000003" stroke="#000" stroke-width="1.2"/><line x1="212.3" y1="426.8" x2="212.3" y2="429.40000000000003" stroke="#000" stroke-width="1.2"/><line x1="251.0" y1="424.3" x2="251.0" y2="429.40000000000003" stroke="#000" stroke-width="1.2"/><text x="89.2" y="439.9" font-size="13" textLength="17.2" lengthAdjust="spacingAndGlyphs" stroke="#000" stroke-width="0.2">10</text><text x="107.7" y="435.9" font-size="8.0" textLength="5.4" lengthAdjust="spacingAndGlyphs" stroke="#000" stroke-width="0.25">0</text><text x="127.9" y="439.9" font-size="13" textLength="17.2" lengthAdjust="spacingAndGlyphs" stroke="#000" stroke-width="0.2">10</text><text x="147.2" y="435.7" font-size="7.2" textLength="3.8" lengthAdjust="spacingAndGlyphs" stroke="#000" stroke-width="0.25">1</text><text x="166.5" y="439.9" font-size="13" textLength="17.2" lengthAdjust="spacingAndGlyphs" stroke="#000" stroke-width="0.2">10</text><text x="185.8" y="435.7" font-size="7.2" textLength="4.6" lengthAdjust="spacingAndGlyphs" stroke="#000" stroke-width="0.25">2</text><text x="205.2" y="439.9" font-size="13" textLength="17.2" lengthAdjust="spacingAndGlyphs" stroke="#000" stroke-width="0.2">10</text><text x="224.5" y="435.7" font-size="7.2" textLength="4.6" lengthAdjust="spacingAndGlyphs" stroke="#000" stroke-width="0.25">3</text><text x="243.9" y="439.9" font-size="13" textLength="17.2" lengthAdjust="spacingAndGlyphs" stroke="#000" stroke-width="0.2">10</text><path d="M263.8,434.2 L266.2,431.0 L268.6,434.2 Z" fill="#000" stroke="#000" stroke-width="0.6" stroke-linejoin="round"/></g>
<g><polygon points="347.1,426.6 347.1,420.0 347.6,419.1 347.1,418.2 347.0,417.3 347.7,416.4 347.5,415.4 346.9,414.5 346.7,413.6 346.9,412.7 347.0,411.8 347.1,410.9 347.9,410.1 347.8,409.2 348.0,408.3 348.0,407.4 348.2,406.5 347.8,405.5 347.4,404.4 348.2,403.6 349.1,402.8 349.2,401.9 348.5,400.7 349.0,399.9 349.5,399.0 349.5,398.0 349.6,397.0 350.1,396.1 349.7,395.0 350.5,394.2 350.8,393.3 350.4,392.2 350.9,391.3 351.6,390.5 352.4,389.7 352.3,388.7 352.7,387.7 352.5,386.7 352.9,385.8 353.2,384.9 353.4,383.9 352.4,382.7 353.2,381.9 353.6,381.1 353.3,380.1 354.0,379.3 353.7,378.3 354.3,377.5 355.0,376.7 354.8,375.8 354.5,374.8 355.0,374.0 355.1,373.1 355.4,372.2 356.1,371.3 355.3,370.3 355.5,369.3 356.0,368.4 355.4,367.4 356.2,366.5 356.8,365.6 356.3,364.6 356.4,363.6 356.3,362.6 356.9,361.8 357.2,360.9 356.9,359.8 357.1,358.9 357.9,358.1 357.9,356.9 358.6,356.0 359.3,355.2 359.5,354.2 359.7,353.2 360.3,352.3 361.1,351.5 362.2,351.3 361.7,350.3 362.4,349.4 362.9,348.5 362.7,347.5 362.7,346.6 362.7,345.6 363.1,344.7 362.6,343.6 363.4,342.7 363.2,341.7 363.5,340.8 363.7,339.8 363.7,338.8 363.9,337.8 363.9,336.8 364.0,335.9 364.6,335.0 364.6,333.9 365.4,333.1 365.6,332.1 366.1,331.2 366.3,330.2 365.7,329.2 366.3,328.2 366.6,327.3 367.5,326.6 367.5,325.4 368.3,324.6 369.4,324.4 369.7,323.5 369.8,322.5 369.7,321.5 370.9,320.7 370.4,319.6 370.1,318.5 370.8,317.4 369.9,316.3 370.4,315.2 370.0,314.1 371.2,313.3 370.8,312.3 370.4,311.2 371.0,310.3 371.3,309.4 371.8,308.5 371.1,307.4 371.8,306.5 371.6,305.5 372.8,304.7 372.6,303.7 372.0,302.6 372.4,301.7 372.8,300.8 373.3,299.7 374.2,298.8 374.3,299.9 374.8,300.8 374.9,301.9 375.7,302.7 376.6,302.3 376.9,301.3 377.8,300.7 378.1,299.8 379.1,299.1 379.5,297.9 379.9,297.0 379.6,296.0 380.1,295.1 380.1,294.1 380.4,293.2 379.4,292.1 380.0,291.2 379.7,292.3 381.2,292.9 380.4,294.1 381.0,295.0 381.2,294.1 381.1,293.2 381.8,292.3 381.3,291.4 381.2,290.5 381.7,289.6 381.9,288.7 381.6,287.8 381.3,286.9 381.5,286.0 381.6,285.1 382.0,284.2 381.4,283.3 381.6,282.4 381.9,281.5 381.9,280.6 382.9,281.0 383.1,281.9 383.2,282.8 382.6,283.8 382.6,284.7 383.1,285.6 383.2,286.5 383.6,287.5 383.5,288.4 383.8,289.3 383.2,290.3 383.2,291.2 383.4,292.1 384.3,293.1 384.9,294.0 383.8,295.0 384.7,295.9 384.0,296.9 384.0,297.8 383.9,298.8 385.0,299.7 384.7,300.7 384.1,301.6 385.3,302.5 384.7,303.5 386.2,304.4 385.7,303.4 386.5,302.6 386.6,301.7 386.7,300.8 387.4,300.0 387.4,299.0 387.2,298.1 387.9,297.2 387.4,296.2 387.5,295.3 387.9,294.4 387.6,293.4 387.7,292.5 388.2,291.6 388.2,290.7 388.5,291.8 387.8,292.9 388.3,294.0 388.7,295.0 388.7,295.9 389.3,296.9 388.9,297.8 388.8,298.8 388.6,299.7 388.6,300.6 388.2,301.6 388.7,302.5 388.5,303.7 389.6,304.4 390.0,305.4 390.1,306.4 389.9,307.3 389.5,308.3 390.4,309.2 390.2,310.2 389.9,311.2 390.8,312.1 390.7,313.0 390.5,314.0 390.0,315.1 390.3,316.0 390.9,316.9 391.0,317.9 392.0,318.6 391.4,320.1 392.4,320.8 392.2,321.8 392.1,322.8 391.9,323.7 392.1,324.7 392.8,325.6 393.3,326.5 393.1,327.5 392.9,328.5 393.2,329.4 393.6,330.4 393.9,331.3 394.5,332.2 394.6,333.1 394.2,334.1 394.5,335.0 394.4,335.9 394.8,336.8 393.9,337.8 394.5,338.6 395.4,339.5 394.9,340.4 394.4,341.4 395.1,342.2 394.7,343.2 395.7,344.0 395.3,345.0 394.6,345.9 395.0,346.8 394.9,347.7 395.2,348.6 395.8,349.4 395.5,350.4 395.5,351.3 396.1,352.2 395.7,353.2 396.0,354.0 395.4,355.0 396.2,355.9 396.5,356.7 397.1,357.6 397.1,358.5 396.4,359.5 397.5,360.3 397.6,361.2 397.2,362.2 397.9,363.0 397.6,364.0 397.5,365.1 398.0,365.9 398.0,366.9 398.6,367.7 399.3,368.5 399.5,369.4 398.6,370.4 399.3,371.3 398.9,372.2 399.5,373.1 399.9,373.9 399.9,374.9 400.2,375.7 399.2,376.8 399.8,377.6 400.0,378.5 400.3,379.4 400.3,380.3 400.5,381.2 401.1,382.1 400.0,383.1 400.5,384.0 400.1,384.9 401.0,385.8 400.8,386.7 401.4,387.5 401.8,388.4 401.3,389.4 400.9,390.5 401.3,391.4 402.3,392.1 401.7,393.2 402.0,394.1 402.7,394.9 403.4,395.7 403.5,396.8 403.5,397.9 404.5,398.5 404.4,399.7 405.4,400.3 405.9,401.2 405.9,402.1 405.6,403.1 406.4,403.9 406.4,404.8 405.8,405.9 406.5,406.7 406.2,407.7 406.8,408.5 407.5,409.3 407.9,410.1 408.0,411.1 408.5,411.9 407.8,413.2 408.8,413.9 409.6,414.6 409.8,415.6 410.9,416.1 410.9,417.2 411.5,418.0 412.3,418.8 413.0,419.7 413.6,420.7 414.8,420.6 415.6,421.2 416.3,422.1 416.9,422.9 418.0,422.7 418.9,423.0 419.8,423.3 420.4,424.1 421.4,424.2 422.3,424.6 423.2,424.7 423.8,425.7 424.7,425.9 425.6,425.5 426.5,425.2 427.4,426.0 428.3,425.1 429.2,425.4 430.1,426.2 431.1,425.2 432.0,425.6 432.9,426.2 433.8,426.2 434.7,425.3 435.6,425.5 436.5,426.0 437.4,425.6 438.3,426.4 439.2,425.3 440.1,426.4 441.0,425.8 441.9,425.4 442.9,425.7 443.8,425.2 444.7,426.0 445.6,425.4 446.5,426.3 447.4,425.9 448.3,425.6 449.2,425.4 450.1,425.9 451.0,425.4 451.9,426.3 452.8,425.2 453.7,425.8 454.6,425.8 455.6,425.5 456.5,426.2 457.4,425.6 458.3,426.0 459.2,425.9 460.1,425.5 461.0,425.6 461.9,425.2 462.8,425.4 463.7,426.3 464.6,425.6 465.5,426.0 466.4,425.3 467.3,425.9 468.3,425.6 469.2,425.8 470.1,425.5 471.0,425.2 471.9,425.6 472.8,425.4 473.7,425.3 474.6,426.1 475.5,425.5 476.4,425.7 477.3,426.4 478.2,426.2 479.1,426.4 480.0,426.4 481.0,425.3 481.9,425.5 482.8,425.2 483.7,426.1 484.6,426.1 485.5,425.7 486.4,425.7 487.3,426.1 488.2,426.1 489.1,425.5 490.0,426.4 490.9,425.7 491.8,426.1 492.7,425.4 493.7,425.3 494.6,426.5 495.5,426.2 496.4,426.2 497.3,425.2 498.2,425.3 499.1,425.4 500.0,425.9 500.0,426.6" fill="#c3c3c3" stroke="none"/><polyline points="347.8,412.0 347.6,411.0 347.9,410.0 348.1,409.0 347.9,407.9 348.3,407.0 348.8,406.0 348.5,405.0 349.3,404.0 349.1,403.0 349.4,402.0 349.1,401.0 349.5,400.0 349.6,399.0 350.1,398.0 350.0,397.0 349.8,395.9 350.8,395.1 351.0,394.1 350.7,393.0 350.7,391.9 351.6,391.1 351.5,390.0 351.8,389.0 351.4,387.9 351.7,387.0 351.8,385.9 352.6,385.0 352.2,384.0 353.1,383.1 353.1,382.0 352.6,380.9 353.4,380.0 353.2,379.0 353.5,378.0 353.9,377.0 354.1,376.0 353.7,375.0 353.7,373.9 354.7,373.1 354.3,372.0 355.0,371.1 354.9,370.0 355.1,369.0 355.4,368.1 355.3,367.0 355.3,366.0 355.5,365.0 355.3,363.8 356.1,362.9 356.1,361.7 356.4,360.6 357.0,359.6 356.4,358.4 357.2,357.4 356.7,356.2 357.4,355.2 357.8,354.1 358.2,353.0 357.9,351.8 358.4,350.7 359.1,349.7 358.9,348.5 359.2,347.4 359.3,346.2 359.2,345.0 359.2,343.8 359.8,342.7 359.8,341.6 360.0,340.5 360.0,339.3 360.3,338.2 360.3,337.1 360.8,336.0 361.0,334.9 361.0,333.8 360.5,332.7 360.5,331.6 360.8,330.5 360.7,329.4 360.8,328.3 361.3,327.2 360.8,326.0 360.8,324.9 361.5,323.8 360.9,322.6 361.3,321.5 361.4,320.4 361.3,319.3 361.8,318.2 361.6,317.1 361.9,316.0 361.4,314.9 361.8,313.8 362.1,312.8 362.2,311.7 362.1,310.7 362.6,309.7 362.8,308.6 362.2,307.5 362.7,306.5 362.6,305.4 362.8,304.3 362.8,303.2 362.8,302.0 363.2,301.0 363.3,299.9 363.7,298.8 363.8,297.6 363.4,296.5 363.0,295.4 363.1,294.3 363.2,293.1 363.3,292.0 363.2,290.8 363.1,289.7 363.1,288.5 363.1,287.4 363.7,286.3 364.5,284.5 365.3,285.4 366.5,285.5 367.6,285.2 368.5,284.4 368.8,285.6 368.1,286.7 367.7,287.8 368.0,289.0 368.0,290.2 368.3,291.4 367.8,292.5 367.8,293.7 367.9,294.9 367.5,296.0 367.7,297.1 368.4,298.2 367.7,299.5 368.2,300.6 368.5,301.7 368.6,302.9 368.5,304.1 369.1,305.1 369.7,306.2 369.9,307.3 369.9,308.5 370.5,309.6 370.9,310.8 370.4,312.2 370.9,313.3 370.7,314.5 371.3,315.6 371.6,316.7 371.2,317.9 371.5,319.0 371.2,320.1 371.2,321.1 372.0,322.1 371.4,323.2 371.4,324.2 371.5,325.3 371.8,326.3 372.6,327.2 373.4,328.1 373.8,329.2 373.7,330.4 374.3,331.5 374.5,332.7 374.5,333.8 374.7,335.0 375.0,336.1 374.7,337.2 375.4,338.3 375.7,339.3 375.3,340.5 375.4,341.6 375.7,342.7 375.5,343.8 375.6,344.9 375.5,346.0 375.5,347.1 376.1,348.2 376.1,349.3 376.2,350.4 376.6,351.5 376.5,352.7 376.3,353.8 376.8,354.9 376.3,356.1 376.5,357.2 376.9,358.2 376.8,359.3 376.4,360.5 377.4,361.5 377.5,362.5 377.2,363.6 377.6,364.7 377.4,365.8 377.3,366.9 378.1,367.9 377.4,369.0 377.4,370.1 377.6,371.2 378.0,372.2 378.1,373.3 378.3,374.3 378.0,375.4 378.2,376.5 378.4,377.6 378.5,378.7 378.5,379.7 378.3,380.8 378.5,381.9 378.4,383.0 378.5,384.1 379.4,385.1 379.5,386.2 379.6,387.3 379.6,388.4 380.0,389.4 380.1,390.5 380.6,391.5 380.8,392.6 380.7,393.7 380.8,394.8 380.4,395.9 380.6,397.0 381.2,398.0 381.2,399.2 381.4,400.3 381.7,401.4 382.4,402.4 382.8,403.4 382.6,404.5 383.5,405.5 383.1,406.6 383.3,407.7 383.8,408.7 383.7,409.8 383.9,410.9 383.9,412.1 384.7,413.0 385.0,414.2 385.5,415.2 386.1,416.2 386.5,417.3 386.4,418.6 387.6,419.3 387.6,420.6 388.5,421.2 388.8,422.3 389.7,423.0 390.3,423.8 391.8,424.0 393.0,425.0" fill="none" stroke="#000" stroke-width="2.0" stroke-dasharray="2.8,3.0" stroke-linejoin="round"/><polyline points="347.1,420.0 347.6,419.1 347.1,418.2 347.0,417.3 347.7,416.4 347.5,415.4 346.9,414.5 346.7,413.6 346.9,412.7 347.0,411.8 347.1,410.9 347.9,410.1 347.8,409.2 348.0,408.3 348.0,407.4 348.2,406.5 347.8,405.5 347.4,404.4 348.2,403.6 349.1,402.8 349.2,401.9 348.5,400.7 349.0,399.9 349.5,399.0 349.5,398.0 349.6,397.0 350.1,396.1 349.7,395.0 350.5,394.2 350.8,393.3 350.4,392.2 350.9,391.3 351.6,390.5 352.4,389.7 352.3,388.7 352.7,387.7 352.5,386.7 352.9,385.8 353.2,384.9 353.4,383.9 352.4,382.7 353.2,381.9 353.6,381.1 353.3,380.1 354.0,379.3 353.7,378.3 354.3,377.5 355.0,376.7 354.8,375.8 354.5,374.8 355.0,374.0 355.1,373.1 355.4,372.2 356.1,371.3 355.3,370.3 355.5,369.3 356.0,368.4 355.4,367.4 356.2,366.5 356.8,365.6 356.3,364.6 356.4,363.6 356.3,362.6 356.9,361.8 357.2,360.9 356.9,359.8 357.1,358.9 357.9,358.1 357.9,356.9 358.6,356.0 359.3,355.2 359.5,354.2 359.7,353.2 360.3,352.3 361.1,351.5 362.2,351.3 361.7,350.3 362.4,349.4 362.9,348.5 362.7,347.5 362.7,346.6 362.7,345.6 363.1,344.7 362.6,343.6 363.4,342.7 363.2,341.7 363.5,340.8 363.7,339.8 363.7,338.8 363.9,337.8 363.9,336.8 364.0,335.9 364.6,335.0 364.6,333.9 365.4,333.1 365.6,332.1 366.1,331.2 366.3,330.2 365.7,329.2 366.3,328.2 366.6,327.3 367.5,326.6 367.5,325.4 368.3,324.6 369.4,324.4 369.7,323.5 369.8,322.5 369.7,321.5 370.9,320.7 370.4,319.6 370.1,318.5 370.8,317.4 369.9,316.3 370.4,315.2 370.0,314.1 371.2,313.3 370.8,312.3 370.4,311.2 371.0,310.3 371.3,309.4 371.8,308.5 371.1,307.4 371.8,306.5 371.6,305.5 372.8,304.7 372.6,303.7 372.0,302.6 372.4,301.7 372.8,300.8 373.3,299.7 374.2,298.8 374.3,299.9 374.8,300.8 374.9,301.9 375.7,302.7 376.6,302.3 376.9,301.3 377.8,300.7 378.1,299.8 379.1,299.1 379.5,297.9 379.9,297.0 379.6,296.0 380.1,295.1 380.1,294.1 380.4,293.2 379.4,292.1 380.0,291.2 379.7,292.3 381.2,292.9 380.4,294.1 381.0,295.0 381.2,294.1 381.1,293.2 381.8,292.3 381.3,291.4 381.2,290.5 381.7,289.6 381.9,288.7 381.6,287.8 381.3,286.9 381.5,286.0 381.6,285.1 382.0,284.2 381.4,283.3 381.6,282.4 381.9,281.5 381.9,280.6 382.9,281.0 383.1,281.9 383.2,282.8 382.6,283.8 382.6,284.7 383.1,285.6 383.2,286.5 383.6,287.5 383.5,288.4 383.8,289.3 383.2,290.3 383.2,291.2 383.4,292.1 384.3,293.1 384.9,294.0 383.8,295.0 384.7,295.9 384.0,296.9 384.0,297.8 383.9,298.8 385.0,299.7 384.7,300.7 384.1,301.6 385.3,302.5 384.7,303.5 386.2,304.4 385.7,303.4 386.5,302.6 386.6,301.7 386.7,300.8 387.4,300.0 387.4,299.0 387.2,298.1 387.9,297.2 387.4,296.2 387.5,295.3 387.9,294.4 387.6,293.4 387.7,292.5 388.2,291.6 388.2,290.7 388.5,291.8 387.8,292.9 388.3,294.0 388.7,295.0 388.7,295.9 389.3,296.9 388.9,297.8 388.8,298.8 388.6,299.7 388.6,300.6 388.2,301.6 388.7,302.5 388.5,303.7 389.6,304.4 390.0,305.4 390.1,306.4 389.9,307.3 389.5,308.3 390.4,309.2 390.2,310.2 389.9,311.2 390.8,312.1 390.7,313.0 390.5,314.0 390.0,315.1 390.3,316.0 390.9,316.9 391.0,317.9 392.0,318.6 391.4,320.1 392.4,320.8 392.2,321.8 392.1,322.8 391.9,323.7 392.1,324.7 392.8,325.6 393.3,326.5 393.1,327.5 392.9,328.5 393.2,329.4 393.6,330.4 393.9,331.3 394.5,332.2 394.6,333.1 394.2,334.1 394.5,335.0 394.4,335.9 394.8,336.8 393.9,337.8 394.5,338.6 395.4,339.5 394.9,340.4 394.4,341.4 395.1,342.2 394.7,343.2 395.7,344.0 395.3,345.0 394.6,345.9 395.0,346.8 394.9,347.7 395.2,348.6 395.8,349.4 395.5,350.4 395.5,351.3 396.1,352.2 395.7,353.2 396.0,354.0 395.4,355.0 396.2,355.9 396.5,356.7 397.1,357.6 397.1,358.5 396.4,359.5 397.5,360.3 397.6,361.2 397.2,362.2 397.9,363.0 397.6,364.0 397.5,365.1 398.0,365.9 398.0,366.9 398.6,367.7 399.3,368.5 399.5,369.4 398.6,370.4 399.3,371.3 398.9,372.2 399.5,373.1 399.9,373.9 399.9,374.9 400.2,375.7 399.2,376.8 399.8,377.6 400.0,378.5 400.3,379.4 400.3,380.3 400.5,381.2 401.1,382.1 400.0,383.1 400.5,384.0 400.1,384.9 401.0,385.8 400.8,386.7 401.4,387.5 401.8,388.4 401.3,389.4 400.9,390.5 401.3,391.4 402.3,392.1 401.7,393.2 402.0,394.1 402.7,394.9 403.4,395.7 403.5,396.8 403.5,397.9 404.5,398.5 404.4,399.7 405.4,400.3 405.9,401.2 405.9,402.1 405.6,403.1 406.4,403.9 406.4,404.8 405.8,405.9 406.5,406.7 406.2,407.7 406.8,408.5 407.5,409.3 407.9,410.1 408.0,411.1 408.5,411.9 407.8,413.2 408.8,413.9 409.6,414.6 409.8,415.6 410.9,416.1 410.9,417.2 411.5,418.0 412.3,418.8 413.0,419.7 413.6,420.7 414.8,420.6 415.6,421.2 416.3,422.1 416.9,422.9 418.0,422.7 418.9,423.0 419.8,423.3 420.4,424.1 421.4,424.2 422.3,424.6 423.2,424.7 423.8,425.7 424.7,425.9 425.6,425.5 426.5,425.2 427.4,426.0 428.3,425.1 429.2,425.4 430.1,426.2 431.1,425.2 432.0,425.6 432.9,426.2 433.8,426.2 434.7,425.3 435.6,425.5 436.5,426.0 437.4,425.6 438.3,426.4 439.2,425.3 440.1,426.4 441.0,425.8 441.9,425.4 442.9,425.7 443.8,425.2 444.7,426.0 445.6,425.4 446.5,426.3 447.4,425.9 448.3,425.6 449.2,425.4 450.1,425.9 451.0,425.4 451.9,426.3 452.8,425.2 453.7,425.8 454.6,425.8 455.6,425.5 456.5,426.2 457.4,425.6 458.3,426.0 459.2,425.9 460.1,425.5 461.0,425.6 461.9,425.2 462.8,425.4 463.7,426.3 464.6,425.6 465.5,426.0 466.4,425.3 467.3,425.9 468.3,425.6 469.2,425.8 470.1,425.5 471.0,425.2 471.9,425.6 472.8,425.4 473.7,425.3 474.6,426.1 475.5,425.5 476.4,425.7 477.3,426.4 478.2,426.2 479.1,426.4 480.0,426.4 481.0,425.3 481.9,425.5 482.8,425.2 483.7,426.1 484.6,426.1 485.5,425.7 486.4,425.7 487.3,426.1 488.2,426.1 489.1,425.5 490.0,426.4 490.9,425.7 491.8,426.1 492.7,425.4 493.7,425.3 494.6,426.5 495.5,426.2 496.4,426.2 497.3,425.2 498.2,425.3 499.1,425.4 500.0,425.9" fill="none" stroke="#000" stroke-width="1.4" stroke-linejoin="miter"/><line x1="347.3" y1="334" x2="347.3" y2="426" stroke="#000" stroke-width="2"/><line x1="346.5" y1="268.5" x2="346.5" y2="429.40000000000003" stroke="#000" stroke-width="1.7"/><line x1="343.3" y1="268.9" x2="346.5" y2="268.9" stroke="#000" stroke-width="1.4"/><line x1="343.3" y1="426.6" x2="501.0" y2="426.6" stroke="#000" stroke-width="1.5"/><line x1="343.7" y1="308.0" x2="346.5" y2="308.0" stroke="#000" stroke-width="1.1"/><line x1="343.7" y1="347.6" x2="346.5" y2="347.6" stroke="#000" stroke-width="1.1"/><line x1="343.7" y1="387.1" x2="346.5" y2="387.1" stroke="#000" stroke-width="1.1"/><line x1="346.5" y1="426.6" x2="346.5" y2="429.20000000000005" stroke="#000" stroke-width="1.2"/><line x1="385.1" y1="426.6" x2="385.1" y2="429.20000000000005" stroke="#000" stroke-width="1.2"/><line x1="423.8" y1="426.6" x2="423.8" y2="429.20000000000005" stroke="#000" stroke-width="1.2"/><line x1="462.4" y1="426.6" x2="462.4" y2="429.20000000000005" stroke="#000" stroke-width="1.2"/><line x1="501.0" y1="424.1" x2="501.0" y2="429.20000000000005" stroke="#000" stroke-width="1.2"/><text x="339.4" y="439.7" font-size="13" textLength="17.2" lengthAdjust="spacingAndGlyphs" stroke="#000" stroke-width="0.2">10</text><text x="357.9" y="435.7" font-size="8.0" textLength="5.4" lengthAdjust="spacingAndGlyphs" stroke="#000" stroke-width="0.25">0</text><text x="378.0" y="439.7" font-size="13" textLength="17.2" lengthAdjust="spacingAndGlyphs" stroke="#000" stroke-width="0.2">10</text><text x="397.3" y="435.5" font-size="7.2" textLength="3.8" lengthAdjust="spacingAndGlyphs" stroke="#000" stroke-width="0.25">1</text><text x="416.6" y="439.7" font-size="13" textLength="17.2" lengthAdjust="spacingAndGlyphs" stroke="#000" stroke-width="0.2">10</text><text x="435.9" y="435.5" font-size="7.2" textLength="4.6" lengthAdjust="spacingAndGlyphs" stroke="#000" stroke-width="0.25">2</text><text x="455.3" y="439.7" font-size="13" textLength="17.2" lengthAdjust="spacingAndGlyphs" stroke="#000" stroke-width="0.2">10</text><text x="474.6" y="435.5" font-size="7.2" textLength="4.6" lengthAdjust="spacingAndGlyphs" stroke="#000" stroke-width="0.25">3</text><text x="493.9" y="439.7" font-size="13" textLength="17.2" lengthAdjust="spacingAndGlyphs" stroke="#000" stroke-width="0.2">10</text><path d="M513.8,434.0 L516.2,430.8 L518.6,434.0 Z" fill="#000" stroke="#000" stroke-width="0.6" stroke-linejoin="round"/></g>
<g><polygon points="96.8,657.3 96.8,640.0 97.1,639.1 96.7,638.1 97.0,637.2 96.9,636.3 97.1,635.4 97.2,634.5 97.0,633.5 96.6,632.6 96.8,631.7 97.8,630.8 97.4,629.9 96.8,628.9 97.9,628.0 97.1,627.1 96.9,626.2 97.6,625.3 97.2,624.3 97.6,623.4 97.7,622.5 97.3,621.6 97.9,620.7 97.3,619.7 97.9,618.8 98.0,617.9 97.3,616.9 97.9,616.0 97.4,615.1 98.0,614.2 98.6,613.3 98.2,612.4 98.5,611.5 98.6,610.5 98.3,609.6 98.1,608.5 99.6,607.9 99.6,606.9 99.7,605.8 99.7,604.5 101.2,603.9 101.3,602.7 101.3,601.7 101.1,600.7 102.4,599.9 102.0,598.8 102.4,597.9 102.2,596.9 101.9,595.9 102.9,595.1 102.1,593.9 102.5,593.0 102.9,592.1 103.2,591.2 102.6,590.2 103.6,589.3 103.1,588.3 103.4,587.3 104.1,586.4 103.8,585.4 104.5,584.5 104.1,583.5 104.4,582.5 104.8,581.6 104.4,580.6 105.0,579.7 105.0,578.7 104.6,577.7 105.0,576.5 106.1,575.8 106.9,575.0 106.9,573.8 107.9,573.0 108.0,571.9 108.2,570.9 108.3,569.9 107.3,569.0 107.6,568.1 108.0,567.1 108.3,566.1 107.9,565.1 107.5,564.2 106.9,563.2 107.8,562.3 107.2,561.3 107.9,560.4 108.3,559.4 107.4,558.4 108.0,557.5 108.6,556.6 108.3,555.6 107.8,554.6 107.7,553.6 108.1,552.7 108.7,551.7 108.4,550.8 107.8,549.8 107.7,548.8 107.8,547.9 108.8,546.9 108.0,545.9 108.5,545.0 108.8,543.8 108.9,542.5 109.3,541.4 110.4,540.7 110.9,539.6 110.8,538.6 110.4,537.7 111.5,536.8 111.0,535.8 111.3,534.8 111.5,533.9 111.7,532.9 110.4,532.0 110.9,531.0 110.6,530.1 111.1,529.1 111.7,528.2 111.6,527.2 110.5,526.2 111.2,525.3 112.4,524.5 112.0,523.6 112.9,522.7 112.7,521.7 112.3,520.8 112.5,519.9 112.0,518.9 113.0,518.0 112.4,517.1 113.1,516.2 112.7,515.2 112.6,514.3 113.3,514.5 113.9,515.5 113.5,516.4 113.7,517.4 112.7,518.4 113.2,519.4 113.9,520.3 113.8,521.3 113.5,522.3 113.3,523.2 113.3,524.2 114.2,525.2 114.5,526.2 115.2,527.0 115.5,528.0 115.5,529.0 115.9,530.1 114.9,530.9 115.1,531.9 115.3,533.0 114.6,533.9 113.7,534.7 114.2,535.8 115.3,536.8 115.2,538.2 116.3,538.1 117.0,539.0 118.1,538.6 119.0,537.7 120.5,537.4 121.5,538.0 121.9,539.0 122.0,540.0 121.8,541.0 122.2,542.0 122.0,543.0 122.2,544.1 122.6,545.2 122.9,546.3 122.8,547.6 123.8,548.3 123.3,549.3 124.7,550.0 124.1,551.0 124.0,552.0 124.0,552.9 124.3,553.8 124.8,554.6 124.7,555.6 124.7,556.5 125.1,557.5 125.3,558.4 124.6,559.4 124.6,560.4 124.5,561.4 124.9,562.3 125.5,563.2 125.3,564.2 125.0,565.2 125.1,566.1 125.5,567.1 125.4,568.1 125.8,569.0 125.6,570.0 125.9,570.9 125.8,571.9 126.5,572.8 126.2,573.8 126.3,574.8 125.5,575.8 126.2,576.7 126.3,577.7 127.7,578.7 128.3,579.6 129.0,580.4 129.1,581.5 129.7,582.4 129.8,583.4 130.3,584.3 130.1,585.4 130.0,584.3 131.5,584.1 131.5,583.0 132.0,582.2 132.5,581.5 132.7,582.5 133.3,583.4 133.7,584.3 133.5,585.4 134.3,586.2 134.2,587.2 134.4,588.2 134.4,589.2 134.3,590.3 134.8,591.2 134.6,592.3 135.4,593.1 135.8,594.0 135.3,595.1 136.0,596.0 136.3,596.9 137.1,597.7 137.2,598.7 136.9,599.9 137.3,600.8 136.9,601.9 138.0,602.6 137.7,603.7 138.3,604.6 139.2,605.8 139.3,606.7 138.8,607.7 139.9,608.6 139.4,609.5 138.9,610.5 139.8,611.4 139.5,612.3 139.9,613.2 140.4,614.1 140.3,615.1 140.2,616.1 139.7,617.1 140.5,618.0 140.3,619.0 140.7,619.9 140.3,620.9 140.0,621.9 140.4,622.9 140.7,623.8 140.3,622.8 141.1,621.9 141.5,621.0 141.0,620.1 140.3,619.1 141.4,618.2 141.5,617.3 140.8,616.3 140.5,615.3 140.6,614.4 141.2,613.5 141.7,612.6 141.4,611.6 141.8,610.7 140.9,609.7 141.3,608.8 141.9,609.6 141.8,610.7 142.4,611.5 143.0,612.3 143.7,613.1 143.9,614.2 144.9,614.8 145.3,615.8 146.4,616.2 146.5,617.3 147.0,618.1 147.8,618.9 147.1,619.9 147.6,620.8 147.5,621.7 147.5,622.6 148.1,623.5 148.0,624.4 148.7,625.2 148.2,626.2 147.8,627.3 148.4,628.2 148.0,629.3 149.4,630.0 148.8,631.2 148.8,632.2 149.3,633.1 149.9,634.0 150.6,634.8 150.9,635.8 151.4,636.7 151.0,638.0 151.7,638.8 152.7,639.5 152.2,640.9 153.2,641.6 153.5,642.6 154.0,643.5 154.3,644.4 154.8,645.2 155.1,646.1 155.7,646.9 156.2,647.7 157.0,648.1 157.2,649.2 158.3,649.5 158.6,650.4 159.4,649.9 160.0,649.2 160.6,648.5 160.7,647.4 161.5,646.9 161.2,647.9 161.0,648.8 161.9,649.7 162.2,650.5 162.0,651.5 163.0,651.2 164.2,651.3 164.9,650.4 165.9,649.9 166.8,649.7 167.8,650.4 168.4,651.1 168.8,652.1 169.5,652.7 169.8,653.7 170.8,654.0 170.7,655.3 171.8,655.6 172.7,655.1 173.7,655.7 174.5,654.7 175.5,654.5 176.5,655.0 177.4,654.4 178.3,654.1 179.3,654.6 180.2,654.6 181.1,654.4 182.1,654.3 182.6,655.6 183.7,655.1 184.5,655.6 185.8,655.4 186.9,655.7 188.0,656.4 188.9,656.7 189.8,657.0 190.7,655.9 191.6,655.8 192.5,656.8 193.4,656.1 194.3,657.1 195.2,656.4 196.1,656.6 197.0,656.2 197.9,656.9 198.8,656.4 199.7,656.2 200.6,657.0 201.5,655.9 202.4,656.8 203.3,655.8 204.2,656.7 205.1,656.3 206.0,657.0 206.9,655.8 207.8,656.6 208.7,656.3 209.6,657.1 210.5,657.1 211.4,656.7 212.3,656.1 213.2,656.1 214.1,656.2 215.0,656.4 215.9,656.1 216.8,656.1 217.7,656.9 218.7,656.7 219.6,656.2 220.5,657.2 221.4,656.1 222.3,656.6 223.2,656.0 224.1,657.0 225.0,657.0 225.9,656.2 226.8,656.9 227.7,657.0 228.6,656.2 229.5,656.3 230.4,656.5 231.3,657.1 232.2,656.1 233.1,656.8 234.0,656.7 234.9,656.5 235.8,656.7 236.7,657.1 237.6,656.2 238.5,657.1 239.4,656.4 240.3,657.0 241.2,657.1 242.1,656.1 243.0,657.1 243.9,657.3 244.8,656.3 245.7,655.9 246.6,656.1 247.5,656.6 248.3,655.7 247.1,654.5 248.4,653.6 247.5,652.5 248.4,651.6 248.2,650.5 249.3,650.5 248.8,649.6 248.9,648.6 249.7,647.8 248.9,646.8 249.4,645.9 250.2,645.1 250.0,644.1 250.3,643.2 249.8,642.3 250.4,642.5 249.7,643.4 251.1,644.3 250.8,645.2 250.0,646.1 250.1,647.0 251.0,647.9 250.4,648.8 250.8,649.8 250.5,650.7 251.0,651.6 251.1,652.5 249.7,653.4 250.7,654.3 249.9,655.2 250.9,656.1 250.4,657.0 250.4,657.3" fill="#c3c3c3" stroke="none"/><polyline points="97.5,652.0 97.7,650.9 97.5,649.7 98.0,648.6 97.9,647.5 98.6,646.5 98.3,645.3 98.8,644.2 99.0,643.1 98.8,642.0 98.4,640.9 98.7,639.8 98.8,638.7 99.2,637.6 98.8,636.5 99.1,635.5 99.5,634.5 100.6,633.9 100.7,632.7 101.3,631.8 101.4,630.8 101.2,629.7 101.7,628.8 101.6,627.6 101.8,626.5 101.8,625.3 102.0,624.2 102.6,623.1 102.8,622.0 102.9,620.9 103.3,619.8 103.3,618.7 103.2,617.5 104.1,616.5 104.1,615.4 104.3,614.3 104.1,613.2 104.1,612.1 104.3,611.0 104.6,609.9 104.5,608.8 104.1,607.7 104.5,606.6 104.4,605.4 104.5,604.3 104.7,603.1 105.0,602.0 105.6,601.1 105.3,600.0 105.4,599.0 105.6,598.0 105.6,596.9 106.1,596.0 106.7,594.9 105.7,593.7 106.4,592.6 106.8,591.5 106.2,590.3 106.5,589.2 106.8,588.1 106.7,587.0 106.7,585.9 106.8,584.8 106.8,583.7 107.7,582.6 107.5,581.5 107.9,580.5 108.1,579.5 107.4,578.3 108.2,577.4 107.9,576.3 108.3,575.3 108.4,574.2 108.3,573.1 109.0,572.2 108.2,571.0 109.0,570.1 108.9,569.0 109.3,567.9 109.1,566.8 109.2,565.7 109.7,564.6 109.1,563.4 109.4,562.3 109.6,561.3 109.8,560.2 109.6,559.2 110.0,558.1 109.7,557.1 110.0,556.0 110.1,555.0 110.3,554.0 110.0,552.9 110.4,551.9 110.4,550.8 110.6,549.7 110.4,548.6 111.0,547.6 110.8,546.4 111.6,545.5 111.3,544.3 111.7,543.3 111.7,542.2 111.8,541.1 112.0,540.0 112.0,538.9 112.2,537.9 113.2,537.1 113.0,536.0 113.3,535.0 113.5,534.0 114.1,533.1 113.7,531.9 113.9,530.9 114.5,530.0 115.1,529.1 115.1,528.0 115.6,527.0 116.1,526.1 116.5,525.1 116.5,524.0 117.5,523.5 118.0,522.5 118.8,523.5 118.8,524.8 119.0,526.0 118.7,527.0 118.8,528.0 119.6,529.0 119.6,530.0 119.6,531.0 119.8,532.0 119.5,533.0 119.8,534.0 119.5,535.0 119.9,536.0 120.1,537.0 120.6,537.9 120.5,539.0 120.5,540.0 120.1,541.1 120.4,542.2 120.7,543.2 120.7,544.3 120.5,545.4 120.5,546.5 121.2,547.5 120.7,548.6 121.1,549.7 121.0,550.8 121.1,551.9 121.5,552.9 121.5,554.0 121.6,555.1 121.7,556.2 122.2,557.2 122.1,558.3 121.9,559.4 122.0,560.5 122.7,561.5 122.8,562.6 122.4,563.8 123.1,564.8 123.2,565.9 123.5,567.0 123.4,568.1 123.2,569.2 124.1,570.3 123.7,571.4 123.6,572.5 124.3,573.6 124.2,574.7 124.3,575.8 124.2,577.0 124.5,578.1 124.9,579.1 125.4,580.2 125.2,581.4 125.3,582.5 125.7,583.6 125.6,584.8 126.2,585.8 126.3,586.9 126.3,588.1 126.7,589.2 126.6,590.4 127.3,591.4 127.5,592.5 127.5,593.6 127.4,594.8 128.3,595.7 128.2,596.9 127.8,598.1 128.2,599.2 128.6,600.4 128.4,601.6 128.7,602.7 128.9,603.8 129.2,604.9 128.6,606.0 129.0,607.1 128.9,608.2 129.0,609.3 128.6,610.4 129.1,611.5 129.0,612.6 129.8,613.6 129.4,614.8 129.7,615.9 129.8,617.0 129.5,618.1 130.0,619.2 130.3,620.3 130.5,621.5 130.4,622.7 131.1,623.7 131.3,624.9 131.5,626.0 131.7,627.1 131.6,628.3 132.0,629.4 132.2,630.5 132.8,631.6 132.9,632.7 133.6,633.7 133.1,634.9 133.4,636.0 133.4,637.1 133.6,638.2 134.5,639.2 134.3,640.4 135.0,641.2 135.7,642.1 135.5,643.4 136.3,644.2 137.3,644.6 138.0,645.4 138.3,646.6 139.2,647.1 139.8,648.0 140.8,648.5 141.0,649.7 141.8,650.4 142.2,651.4 143.0,652.1 144.0,652.7 144.2,653.8 145.1,654.4 146.1,654.5 147.0,655.0" fill="none" stroke="#000" stroke-width="2.0" stroke-dasharray="2.8,3.0" stroke-linejoin="round"/><polyline points="96.8,640.0 97.1,639.1 96.7,638.1 97.0,637.2 96.9,636.3 97.1,635.4 97.2,634.5 97.0,633.5 96.6,632.6 96.8,631.7 97.8,630.8 97.4,629.9 96.8,628.9 97.9,628.0 97.1,627.1 96.9,626.2 97.6,625.3 97.2,624.3 97.6,623.4 97.7,622.5 97.3,621.6 97.9,620.7 97.3,619.7 97.9,618.8 98.0,617.9 97.3,616.9 97.9,616.0 97.4,615.1 98.0,614.2 98.6,613.3 98.2,612.4 98.5,611.5 98.6,610.5 98.3,609.6 98.1,608.5 99.6,607.9 99.6,606.9 99.7,605.8 99.7,604.5 101.2,603.9 101.3,602.7 101.3,601.7 101.1,600.7 102.4,599.9 102.0,598.8 102.4,597.9 102.2,596.9 101.9,595.9 102.9,595.1 102.1,593.9 102.5,593.0 102.9,592.1 103.2,591.2 102.6,590.2 103.6,589.3 103.1,588.3 103.4,587.3 104.1,586.4 103.8,585.4 104.5,584.5 104.1,583.5 104.4,582.5 104.8,581.6 104.4,580.6 105.0,579.7 105.0,578.7 104.6,577.7 105.0,576.5 106.1,575.8 106.9,575.0 106.9,573.8 107.9,573.0 108.0,571.9 108.2,570.9 108.3,569.9 107.3,569.0 107.6,568.1 108.0,567.1 108.3,566.1 107.9,565.1 107.5,564.2 106.9,563.2 107.8,562.3 107.2,561.3 107.9,560.4 108.3,559.4 107.4,558.4 108.0,557.5 108.6,556.6 108.3,555.6 107.8,554.6 107.7,553.6 108.1,552.7 108.7,551.7 108.4,550.8 107.8,549.8 107.7,548.8 107.8,547.9 108.8,546.9 108.0,545.9 108.5,545.0 108.8,543.8 108.9,542.5 109.3,541.4 110.4,540.7 110.9,539.6 110.8,538.6 110.4,537.7 111.5,536.8 111.0,535.8 111.3,534.8 111.5,533.9 111.7,532.9 110.4,532.0 110.9,531.0 110.6,530.1 111.1,529.1 111.7,528.2 111.6,527.2 110.5,526.2 111.2,525.3 112.4,524.5 112.0,523.6 112.9,522.7 112.7,521.7 112.3,520.8 112.5,519.9 112.0,518.9 113.0,518.0 112.4,517.1 113.1,516.2 112.7,515.2 112.6,514.3 113.3,514.5 113.9,515.5 113.5,516.4 113.7,517.4 112.7,518.4 113.2,519.4 113.9,520.3 113.8,521.3 113.5,522.3 113.3,523.2 113.3,524.2 114.2,525.2 114.5,526.2 115.2,527.0 115.5,528.0 115.5,529.0 115.9,530.1 114.9,530.9 115.1,531.9 115.3,533.0 114.6,533.9 113.7,534.7 114.2,535.8 115.3,536.8 115.2,538.2 116.3,538.1 117.0,539.0 118.1,538.6 119.0,537.7 120.5,537.4 121.5,538.0 121.9,539.0 122.0,540.0 121.8,541.0 122.2,542.0 122.0,543.0 122.2,544.1 122.6,545.2 122.9,546.3 122.8,547.6 123.8,548.3 123.3,549.3 124.7,550.0 124.1,551.0 124.0,552.0 124.0,552.9 124.3,553.8 124.8,554.6 124.7,555.6 124.7,556.5 125.1,557.5 125.3,558.4 124.6,559.4 124.6,560.4 124.5,561.4 124.9,562.3 125.5,563.2 125.3,564.2 125.0,565.2 125.1,566.1 125.5,567.1 125.4,568.1 125.8,569.0 125.6,570.0 125.9,570.9 125.8,571.9 126.5,572.8 126.2,573.8 126.3,574.8 125.5,575.8 126.2,576.7 126.3,577.7 127.7,578.7 128.3,579.6 129.0,580.4 129.1,581.5 129.7,582.4 129.8,583.4 130.3,584.3 130.1,585.4 130.0,584.3 131.5,584.1 131.5,583.0 132.0,582.2 132.5,581.5 132.7,582.5 133.3,583.4 133.7,584.3 133.5,585.4 134.3,586.2 134.2,587.2 134.4,588.2 134.4,589.2 134.3,590.3 134.8,591.2 134.6,592.3 135.4,593.1 135.8,594.0 135.3,595.1 136.0,596.0 136.3,596.9 137.1,597.7 137.2,598.7 136.9,599.9 137.3,600.8 136.9,601.9 138.0,602.6 137.7,603.7 138.3,604.6 139.2,605.8 139.3,606.7 138.8,607.7 139.9,608.6 139.4,609.5 138.9,610.5 139.8,611.4 139.5,612.3 139.9,613.2 140.4,614.1 140.3,615.1 140.2,616.1 139.7,617.1 140.5,618.0 140.3,619.0 140.7,619.9 140.3,620.9 140.0,621.9 140.4,622.9 140.7,623.8 140.3,622.8 141.1,621.9 141.5,621.0 141.0,620.1 140.3,619.1 141.4,618.2 141.5,617.3 140.8,616.3 140.5,615.3 140.6,614.4 141.2,613.5 141.7,612.6 141.4,611.6 141.8,610.7 140.9,609.7 141.3,608.8 141.9,609.6 141.8,610.7 142.4,611.5 143.0,612.3 143.7,613.1 143.9,614.2 144.9,614.8 145.3,615.8 146.4,616.2 146.5,617.3 147.0,618.1 147.8,618.9 147.1,619.9 147.6,620.8 147.5,621.7 147.5,622.6 148.1,623.5 148.0,624.4 148.7,625.2 148.2,626.2 147.8,627.3 148.4,628.2 148.0,629.3 149.4,630.0 148.8,631.2 148.8,632.2 149.3,633.1 149.9,634.0 150.6,634.8 150.9,635.8 151.4,636.7 151.0,638.0 151.7,638.8 152.7,639.5 152.2,640.9 153.2,641.6 153.5,642.6 154.0,643.5 154.3,644.4 154.8,645.2 155.1,646.1 155.7,646.9 156.2,647.7 157.0,648.1 157.2,649.2 158.3,649.5 158.6,650.4 159.4,649.9 160.0,649.2 160.6,648.5 160.7,647.4 161.5,646.9 161.2,647.9 161.0,648.8 161.9,649.7 162.2,650.5 162.0,651.5 163.0,651.2 164.2,651.3 164.9,650.4 165.9,649.9 166.8,649.7 167.8,650.4 168.4,651.1 168.8,652.1 169.5,652.7 169.8,653.7 170.8,654.0 170.7,655.3 171.8,655.6 172.7,655.1 173.7,655.7 174.5,654.7 175.5,654.5 176.5,655.0 177.4,654.4 178.3,654.1 179.3,654.6 180.2,654.6 181.1,654.4 182.1,654.3 182.6,655.6 183.7,655.1 184.5,655.6 185.8,655.4 186.9,655.7 188.0,656.4 188.9,656.7 189.8,657.0 190.7,655.9 191.6,655.8 192.5,656.8 193.4,656.1 194.3,657.1 195.2,656.4 196.1,656.6 197.0,656.2 197.9,656.9 198.8,656.4 199.7,656.2 200.6,657.0 201.5,655.9 202.4,656.8 203.3,655.8 204.2,656.7 205.1,656.3 206.0,657.0 206.9,655.8 207.8,656.6 208.7,656.3 209.6,657.1 210.5,657.1 211.4,656.7 212.3,656.1 213.2,656.1 214.1,656.2 215.0,656.4 215.9,656.1 216.8,656.1 217.7,656.9 218.7,656.7 219.6,656.2 220.5,657.2 221.4,656.1 222.3,656.6 223.2,656.0 224.1,657.0 225.0,657.0 225.9,656.2 226.8,656.9 227.7,657.0 228.6,656.2 229.5,656.3 230.4,656.5 231.3,657.1 232.2,656.1 233.1,656.8 234.0,656.7 234.9,656.5 235.8,656.7 236.7,657.1 237.6,656.2 238.5,657.1 239.4,656.4 240.3,657.0 241.2,657.1 242.1,656.1 243.0,657.1 243.9,657.3 244.8,656.3 245.7,655.9 246.6,656.1 247.5,656.6 248.3,655.7 247.1,654.5 248.4,653.6 247.5,652.5 248.4,651.6 248.2,650.5 249.3,650.5 248.8,649.6 248.9,648.6 249.7,647.8 248.9,646.8 249.4,645.9 250.2,645.1 250.0,644.1 250.3,643.2 249.8,642.3 250.4,642.5 249.7,643.4 251.1,644.3 250.8,645.2 250.0,646.1 250.1,647.0 251.0,647.9 250.4,648.8 250.8,649.8 250.5,650.7 251.0,651.6 251.1,652.5 249.7,653.4 250.7,654.3 249.9,655.2 250.9,656.1 250.4,657.0" fill="none" stroke="#000" stroke-width="1.4" stroke-linejoin="miter"/><line x1="96.9" y1="561" x2="96.9" y2="657" stroke="#000" stroke-width="2"/><line x1="95.6" y1="498.4" x2="95.6" y2="660.0999999999999" stroke="#000" stroke-width="1.7"/><line x1="92.39999999999999" y1="498.79999999999995" x2="95.6" y2="498.79999999999995" stroke="#000" stroke-width="1.4"/><line x1="92.39999999999999" y1="657.3" x2="250.3" y2="657.3" stroke="#000" stroke-width="1.5"/><line x1="92.8" y1="538.1" x2="95.6" y2="538.1" stroke="#000" stroke-width="1.1"/><line x1="92.8" y1="577.8" x2="95.6" y2="577.8" stroke="#000" stroke-width="1.1"/><line x1="92.8" y1="617.6" x2="95.6" y2="617.6" stroke="#000" stroke-width="1.1"/><line x1="95.6" y1="657.3" x2="95.6" y2="659.9" stroke="#000" stroke-width="1.2"/><line x1="134.3" y1="657.3" x2="134.3" y2="659.9" stroke="#000" stroke-width="1.2"/><line x1="172.9" y1="657.3" x2="172.9" y2="659.9" stroke="#000" stroke-width="1.2"/><line x1="211.6" y1="657.3" x2="211.6" y2="659.9" stroke="#000" stroke-width="1.2"/><line x1="250.3" y1="654.8" x2="250.3" y2="659.9" stroke="#000" stroke-width="1.2"/><text x="88.5" y="670.4" font-size="13" textLength="17.2" lengthAdjust="spacingAndGlyphs" stroke="#000" stroke-width="0.2">10</text><text x="107.0" y="666.4" font-size="8.0" textLength="5.4" lengthAdjust="spacingAndGlyphs" stroke="#000" stroke-width="0.25">0</text><text x="127.2" y="670.4" font-size="13" textLength="17.2" lengthAdjust="spacingAndGlyphs" stroke="#000" stroke-width="0.2">10</text><text x="146.5" y="666.2" font-size="7.2" textLength="3.8" lengthAdjust="spacingAndGlyphs" stroke="#000" stroke-width="0.25">1</text><text x="165.8" y="670.4" font-size="13" textLength="17.2" lengthAdjust="spacingAndGlyphs" stroke="#000" stroke-width="0.2">10</text><text x="185.1" y="666.2" font-size="7.2" textLength="4.6" lengthAdjust="spacingAndGlyphs" stroke="#000" stroke-width="0.25">2</text><text x="204.5" y="670.4" font-size="13" textLength="17.2" lengthAdjust="spacingAndGlyphs" stroke="#000" stroke-width="0.2">10</text><text x="223.8" y="666.2" font-size="7.2" textLength="4.6" lengthAdjust="spacingAndGlyphs" stroke="#000" stroke-width="0.25">3</text><text x="243.2" y="670.4" font-size="13" textLength="17.2" lengthAdjust="spacingAndGlyphs" stroke="#000" stroke-width="0.2">10</text><path d="M263.1,664.7 L265.5,661.5 L267.9,664.7 Z" fill="#000" stroke="#000" stroke-width="0.6" stroke-linejoin="round"/></g>
<g><polygon points="347.5,657.0 347.5,652.0 347.7,651.1 348.3,650.2 348.1,649.2 348.2,648.3 347.2,647.4 347.5,646.5 347.8,645.5 347.1,644.6 348.5,643.7 347.6,642.8 347.6,641.8 347.7,640.9 348.0,640.0 347.8,638.9 348.8,638.1 348.6,637.0 348.7,636.0 348.7,635.0 349.0,634.0 348.5,632.9 349.0,632.0 349.9,631.1 349.9,630.1 350.1,629.1 349.4,628.0 349.5,626.9 350.0,626.0 349.5,624.9 350.4,624.0 350.3,623.0 350.6,622.0 350.8,621.0 351.0,620.0 351.6,619.1 351.8,617.9 352.9,617.2 353.0,616.0 352.8,614.9 353.9,614.1 353.6,613.0 353.0,611.9 353.6,611.0 354.0,610.0 354.1,609.1 354.1,608.2 354.4,607.3 354.2,606.4 354.2,605.5 355.0,604.6 354.4,603.7 355.1,602.8 355.3,601.9 355.0,601.0 355.2,600.1 355.1,599.2 355.8,598.3 355.2,597.3 355.8,596.5 354.8,595.5 355.3,594.6 355.5,593.7 355.9,592.8 355.3,591.6 356.6,590.9 355.7,589.7 356.5,588.8 356.8,587.9 356.4,586.8 357.5,586.0 357.2,585.0 357.7,584.1 357.4,583.1 357.5,582.1 357.8,581.2 357.9,580.2 357.4,579.2 357.4,578.2 357.9,577.3 358.5,576.4 357.7,575.3 358.9,574.5 358.1,573.4 358.1,572.4 358.2,571.5 358.9,570.6 359.4,569.7 359.7,568.7 359.0,567.7 359.4,566.7 358.9,565.7 359.3,564.8 360.1,564.0 360.1,563.0 359.7,561.8 359.9,560.8 360.8,560.0 361.2,559.1 360.5,558.0 361.8,557.2 361.2,556.1 361.3,555.1 361.8,554.2 362.1,553.3 361.8,552.3 362.3,551.4 361.9,550.3 363.1,549.5 362.7,548.5 362.6,547.5 363.5,546.6 362.7,545.5 363.8,544.7 364.2,543.8 363.7,542.7 363.6,541.8 363.2,540.8 363.7,539.9 364.1,539.0 364.0,538.0 363.4,537.1 363.5,536.0 363.7,535.0 363.2,533.9 363.8,533.0 364.0,532.0 365.1,531.8 366.0,531.0 367.0,531.4 368.0,532.0 369.3,531.7 370.5,531.0 370.7,529.7 372.2,529.2 372.4,528.0 374.1,528.0 373.6,527.0 374.7,526.1 374.9,525.2 374.8,524.2 374.2,523.3 373.9,522.3 374.0,521.4 374.6,520.5 374.3,519.5 374.8,519.5 374.8,520.4 374.3,521.4 375.5,522.3 375.0,523.2 374.5,524.2 374.9,525.1 375.0,526.1 375.1,527.0 376.2,526.7 377.0,527.5 378.1,527.6 378.8,528.5 379.7,528.0 379.4,527.1 380.3,526.2 380.3,525.3 379.5,524.3 380.5,523.4 380.0,522.5 381.3,522.5 382.0,523.4 381.3,524.4 380.8,525.3 381.7,526.2 381.0,527.2 381.4,528.1 381.7,529.0 382.7,529.8 382.5,531.0 382.8,531.9 382.7,532.9 383.0,533.9 382.3,534.8 383.2,535.8 382.4,536.8 383.1,537.7 383.5,538.6 382.9,539.6 383.3,540.6 383.8,541.5 384.8,541.5 385.5,542.4 385.0,543.5 384.8,544.5 385.2,545.4 385.6,546.3 386.3,547.2 385.8,548.3 385.9,549.3 386.5,550.2 385.8,551.3 386.6,552.2 386.1,553.2 386.3,554.2 386.6,555.1 386.7,556.1 386.4,557.1 387.2,558.0 387.3,559.0 386.4,560.0 387.3,560.9 387.2,561.9 387.0,563.0 387.2,564.0 388.0,564.8 388.7,565.6 389.0,566.6 388.7,567.7 388.6,568.8 389.9,569.4 389.8,570.5 390.1,571.5 390.2,572.5 391.0,573.3 390.6,574.4 391.2,575.3 390.9,576.3 391.1,577.3 391.4,578.2 392.0,579.1 392.5,579.9 392.5,581.0 392.8,582.0 393.2,582.9 393.5,583.9 393.5,584.9 392.8,586.1 393.5,587.0 393.9,588.0 393.8,589.1 395.4,589.6 394.6,591.0 395.6,591.7 396.0,592.7 396.0,593.8 396.6,594.6 396.8,595.6 397.7,596.2 397.7,597.3 397.6,598.3 398.6,599.0 398.7,600.0 399.2,600.8 398.8,601.9 399.3,602.8 399.6,603.8 400.3,604.7 399.9,606.0 401.3,606.5 401.2,607.7 401.4,608.6 402.1,609.3 401.9,610.3 402.0,611.3 402.4,612.1 403.5,612.7 403.6,613.6 403.5,614.6 403.7,615.6 403.4,616.7 405.0,617.3 404.5,618.5 404.7,619.5 405.2,620.4 404.9,621.4 405.7,622.2 405.1,623.2 405.7,624.0 405.2,625.0 406.6,625.7 405.4,626.8 406.3,627.6 406.3,628.5 406.7,629.4 407.3,630.2 407.4,631.2 406.9,632.3 407.5,633.1 408.1,634.0 409.4,634.3 409.8,635.4 410.7,636.1 411.6,636.8 412.3,637.7 412.7,638.8 413.5,639.4 413.8,640.3 413.5,641.6 413.9,642.4 415.0,642.9 415.3,643.9 416.2,644.3 416.7,645.1 417.3,645.8 417.4,646.8 417.6,647.8 418.3,648.5 419.0,649.2 419.9,649.6 421.0,649.2 421.9,649.8 422.8,650.2 423.7,650.7 424.8,650.4 425.4,651.3 426.5,651.5 427.6,651.3 428.2,652.4 429.2,652.2 430.0,652.7 431.1,652.9 431.4,654.4 432.5,654.6 433.5,655.0 434.2,655.6 435.4,655.1 435.9,656.3 436.9,656.2 437.8,656.8 438.7,656.8 439.6,656.5 440.5,656.7 441.4,656.6 442.3,656.3 443.2,656.1 444.1,656.7 445.0,656.6 445.9,656.7 446.8,655.9 447.7,656.9 448.6,656.3 449.5,656.8 450.4,655.7 451.3,656.9 452.2,656.6 453.1,655.9 454.0,656.7 454.9,655.9 455.8,655.8 456.7,656.2 457.6,655.9 458.5,656.2 459.4,656.8 460.3,656.5 461.2,656.5 462.1,656.1 463.0,656.6 463.9,656.7 464.8,656.5 465.7,656.9 466.6,656.7 467.5,656.1 468.5,655.7 469.4,656.5 470.3,656.7 471.2,656.0 472.1,656.4 473.0,656.7 473.9,656.7 474.8,655.6 475.7,656.2 476.6,655.6 477.5,655.7 478.4,656.7 479.3,656.2 480.2,656.4 481.1,656.2 482.0,656.0 482.9,655.9 483.8,656.1 484.7,656.8 485.6,656.4 486.5,656.0 487.4,655.7 488.3,656.0 489.2,656.6 490.1,656.2 491.0,656.5 491.9,656.7 492.8,655.8 493.7,656.5 494.6,655.6 495.5,656.7 496.4,655.9 497.3,656.0 498.2,656.9 499.1,656.1 500.0,656.3 500.0,657.0" fill="#c3c3c3" stroke="none"/><polyline points="348.0,645.0 347.9,644.0 348.7,643.1 348.7,642.0 349.1,641.1 348.8,640.0 349.1,639.0 349.7,638.1 349.5,637.0 350.1,636.1 349.5,634.9 350.0,634.0 350.5,633.0 350.0,631.9 350.5,631.0 350.1,629.9 350.4,629.0 351.3,628.1 351.0,627.0 351.5,626.0 351.1,625.0 351.5,624.0 351.6,623.0 351.6,621.9 352.2,621.0 352.7,620.1 352.6,619.0 352.7,618.0 353.5,617.1 353.7,616.1 353.5,615.0 353.8,614.0 353.4,612.9 354.1,612.0 354.0,611.0 354.7,610.1 354.3,609.0 354.7,608.0 354.8,607.0 354.7,606.0 355.0,605.0 355.1,604.0 355.4,603.0 355.7,602.0 355.4,601.0 355.4,600.0 356.1,599.0 355.3,598.0 356.1,597.0 356.1,596.0 356.0,595.0 356.2,594.0 356.1,593.0 356.5,592.0 356.8,591.0 356.7,590.0 356.8,589.0 356.2,588.0 356.6,587.0 356.5,586.0 357.0,585.0 357.6,584.1 357.6,583.0 357.0,582.0 357.6,581.0 357.7,580.0 357.3,578.9 357.8,578.0 358.0,577.0 358.4,576.0 358.4,575.0 358.2,574.0 358.8,573.0 358.5,572.0 358.9,571.0 359.0,570.0 359.1,569.0 359.8,568.1 359.6,567.0 360.0,566.1 360.0,565.0 359.9,564.0 360.6,563.1 360.5,562.0 360.5,561.0 360.8,560.0 360.6,559.0 360.6,558.0 361.1,557.0 361.5,556.0 361.6,555.0 361.5,554.0 361.5,553.0 361.4,551.9 361.9,551.0 362.4,550.1 361.9,549.0 362.6,548.0 362.5,547.0 362.3,546.0 362.6,545.0 362.5,543.9 362.9,543.0 363.1,542.0 363.8,541.1 363.5,540.0 364.0,539.0 363.2,538.0 363.3,537.0 363.9,536.0 363.2,535.0 363.3,534.0 363.4,533.0 363.1,532.0 363.3,531.0 363.5,530.0 363.5,529.0 363.7,528.0 364.4,527.1 363.8,526.0 363.9,525.0 364.8,524.1 364.5,523.0 365.1,522.0 366.1,521.2 366.4,520.0 366.9,519.1 367.4,518.2 367.4,517.1 367.6,516.1 368.6,515.3 368.7,514.3 368.9,515.4 369.0,516.6 369.0,517.7 369.1,518.9 369.5,520.0 369.9,521.0 369.9,522.0 369.5,523.1 370.0,524.0 370.4,525.0 370.2,526.0 370.5,527.0 370.5,528.1 369.7,528.9 370.2,530.1 369.2,530.9 369.2,532.0 369.0,533.0 369.0,534.2 368.3,535.4 368.9,536.7 368.5,537.9 368.9,538.9 369.2,540.0 368.9,541.1 368.8,542.2 369.0,543.2 369.4,544.2 369.2,545.4 370.0,546.3 370.0,547.4 369.9,548.5 370.1,549.5 370.1,550.5 370.7,551.4 371.0,552.4 371.2,553.3 371.8,554.2 372.2,555.4 371.9,556.7 372.3,557.8 372.8,559.0 373.2,559.9 373.4,560.9 373.3,562.0 373.8,562.9 374.2,564.0 374.6,565.1 374.1,566.3 374.7,567.4 374.9,568.5 375.2,569.6 375.1,570.8 375.0,572.0 375.9,573.0 375.8,574.2 375.7,575.4 376.2,576.5 375.9,577.6 375.9,578.7 375.6,579.8 375.9,580.9 376.1,582.0 376.2,583.1 376.4,584.2 376.2,585.4 376.6,586.5 376.1,587.6 376.2,588.8 376.2,589.9 376.6,591.0 377.2,591.9 377.0,593.0 377.3,594.1 377.8,595.0 378.1,596.0 377.8,597.0 377.8,598.0 378.1,599.0 378.1,600.0 378.3,601.0 378.2,602.0 378.6,603.0 379.0,604.0 378.4,605.0 378.4,606.0 378.5,607.0 378.8,608.0 379.0,609.0 378.5,610.0 378.6,611.0 378.4,612.0 379.1,613.0 379.3,614.0 379.4,615.0 379.6,615.9 379.2,617.0 379.0,618.1 379.6,619.0 379.4,620.0 380.0,621.0 379.8,622.0 380.6,622.9 380.0,624.0 380.6,625.0 380.6,626.0 381.3,626.9 380.9,628.0 381.6,628.9 381.7,630.0 382.1,630.9 381.9,632.0 382.1,633.0 382.3,634.0 382.3,635.1 383.3,635.9 382.8,637.1 383.7,637.9 383.6,639.0 384.3,639.9 384.3,641.0 385.0,641.9 385.4,642.9 385.6,644.0 386.1,645.0 386.8,645.9 386.6,647.1 387.6,647.9 387.4,649.1 388.1,650.0 388.5,651.0 389.3,651.6 390.3,652.1 390.3,653.4 391.1,654.0 392.3,654.3 393.0,655.3 394.0,656.0" fill="none" stroke="#000" stroke-width="2.0" stroke-dasharray="2.8,3.0" stroke-linejoin="round"/><polyline points="347.5,652.0 347.7,651.1 348.3,650.2 348.1,649.2 348.2,648.3 347.2,647.4 347.5,646.5 347.8,645.5 347.1,644.6 348.5,643.7 347.6,642.8 347.6,641.8 347.7,640.9 348.0,640.0 347.8,638.9 348.8,638.1 348.6,637.0 348.7,636.0 348.7,635.0 349.0,634.0 348.5,632.9 349.0,632.0 349.9,631.1 349.9,630.1 350.1,629.1 349.4,628.0 349.5,626.9 350.0,626.0 349.5,624.9 350.4,624.0 350.3,623.0 350.6,622.0 350.8,621.0 351.0,620.0 351.6,619.1 351.8,617.9 352.9,617.2 353.0,616.0 352.8,614.9 353.9,614.1 353.6,613.0 353.0,611.9 353.6,611.0 354.0,610.0 354.1,609.1 354.1,608.2 354.4,607.3 354.2,606.4 354.2,605.5 355.0,604.6 354.4,603.7 355.1,602.8 355.3,601.9 355.0,601.0 355.2,600.1 355.1,599.2 355.8,598.3 355.2,597.3 355.8,596.5 354.8,595.5 355.3,594.6 355.5,593.7 355.9,592.8 355.3,591.6 356.6,590.9 355.7,589.7 356.5,588.8 356.8,587.9 356.4,586.8 357.5,586.0 357.2,585.0 357.7,584.1 357.4,583.1 357.5,582.1 357.8,581.2 357.9,580.2 357.4,579.2 357.4,578.2 357.9,577.3 358.5,576.4 357.7,575.3 358.9,574.5 358.1,573.4 358.1,572.4 358.2,571.5 358.9,570.6 359.4,569.7 359.7,568.7 359.0,567.7 359.4,566.7 358.9,565.7 359.3,564.8 360.1,564.0 360.1,563.0 359.7,561.8 359.9,560.8 360.8,560.0 361.2,559.1 360.5,558.0 361.8,557.2 361.2,556.1 361.3,555.1 361.8,554.2 362.1,553.3 361.8,552.3 362.3,551.4 361.9,550.3 363.1,549.5 362.7,548.5 362.6,547.5 363.5,546.6 362.7,545.5 363.8,544.7 364.2,543.8 363.7,542.7 363.6,541.8 363.2,540.8 363.7,539.9 364.1,539.0 364.0,538.0 363.4,537.1 363.5,536.0 363.7,535.0 363.2,533.9 363.8,533.0 364.0,532.0 365.1,531.8 366.0,531.0 367.0,531.4 368.0,532.0 369.3,531.7 370.5,531.0 370.7,529.7 372.2,529.2 372.4,528.0 374.1,528.0 373.6,527.0 374.7,526.1 374.9,525.2 374.8,524.2 374.2,523.3 373.9,522.3 374.0,521.4 374.6,520.5 374.3,519.5 374.8,519.5 374.8,520.4 374.3,521.4 375.5,522.3 375.0,523.2 374.5,524.2 374.9,525.1 375.0,526.1 375.1,527.0 376.2,526.7 377.0,527.5 378.1,527.6 378.8,528.5 379.7,528.0 379.4,527.1 380.3,526.2 380.3,525.3 379.5,524.3 380.5,523.4 380.0,522.5 381.3,522.5 382.0,523.4 381.3,524.4 380.8,525.3 381.7,526.2 381.0,527.2 381.4,528.1 381.7,529.0 382.7,529.8 382.5,531.0 382.8,531.9 382.7,532.9 383.0,533.9 382.3,534.8 383.2,535.8 382.4,536.8 383.1,537.7 383.5,538.6 382.9,539.6 383.3,540.6 383.8,541.5 384.8,541.5 385.5,542.4 385.0,543.5 384.8,544.5 385.2,545.4 385.6,546.3 386.3,547.2 385.8,548.3 385.9,549.3 386.5,550.2 385.8,551.3 386.6,552.2 386.1,553.2 386.3,554.2 386.6,555.1 386.7,556.1 386.4,557.1 387.2,558.0 387.3,559.0 386.4,560.0 387.3,560.9 387.2,561.9 387.0,563.0 387.2,564.0 388.0,564.8 388.7,565.6 389.0,566.6 388.7,567.7 388.6,568.8 389.9,569.4 389.8,570.5 390.1,571.5 390.2,572.5 391.0,573.3 390.6,574.4 391.2,575.3 390.9,576.3 391.1,577.3 391.4,578.2 392.0,579.1 392.5,579.9 392.5,581.0 392.8,582.0 393.2,582.9 393.5,583.9 393.5,584.9 392.8,586.1 393.5,587.0 393.9,588.0 393.8,589.1 395.4,589.6 394.6,591.0 395.6,591.7 396.0,592.7 396.0,593.8 396.6,594.6 396.8,595.6 397.7,596.2 397.7,597.3 397.6,598.3 398.6,599.0 398.7,600.0 399.2,600.8 398.8,601.9 399.3,602.8 399.6,603.8 400.3,604.7 399.9,606.0 401.3,606.5 401.2,607.7 401.4,608.6 402.1,609.3 401.9,610.3 402.0,611.3 402.4,612.1 403.5,612.7 403.6,613.6 403.5,614.6 403.7,615.6 403.4,616.7 405.0,617.3 404.5,618.5 404.7,619.5 405.2,620.4 404.9,621.4 405.7,622.2 405.1,623.2 405.7,624.0 405.2,625.0 406.6,625.7 405.4,626.8 406.3,627.6 406.3,628.5 406.7,629.4 407.3,630.2 407.4,631.2 406.9,632.3 407.5,633.1 408.1,634.0 409.4,634.3 409.8,635.4 410.7,636.1 411.6,636.8 412.3,637.7 412.7,638.8 413.5,639.4 413.8,640.3 413.5,641.6 413.9,642.4 415.0,642.9 415.3,643.9 416.2,644.3 416.7,645.1 417.3,645.8 417.4,646.8 417.6,647.8 418.3,648.5 419.0,649.2 419.9,649.6 421.0,649.2 421.9,649.8 422.8,650.2 423.7,650.7 424.8,650.4 425.4,651.3 426.5,651.5 427.6,651.3 428.2,652.4 429.2,652.2 430.0,652.7 431.1,652.9 431.4,654.4 432.5,654.6 433.5,655.0 434.2,655.6 435.4,655.1 435.9,656.3 436.9,656.2 437.8,656.8 438.7,656.8 439.6,656.5 440.5,656.7 441.4,656.6 442.3,656.3 443.2,656.1 444.1,656.7 445.0,656.6 445.9,656.7 446.8,655.9 447.7,656.9 448.6,656.3 449.5,656.8 450.4,655.7 451.3,656.9 452.2,656.6 453.1,655.9 454.0,656.7 454.9,655.9 455.8,655.8 456.7,656.2 457.6,655.9 458.5,656.2 459.4,656.8 460.3,656.5 461.2,656.5 462.1,656.1 463.0,656.6 463.9,656.7 464.8,656.5 465.7,656.9 466.6,656.7 467.5,656.1 468.5,655.7 469.4,656.5 470.3,656.7 471.2,656.0 472.1,656.4 473.0,656.7 473.9,656.7 474.8,655.6 475.7,656.2 476.6,655.6 477.5,655.7 478.4,656.7 479.3,656.2 480.2,656.4 481.1,656.2 482.0,656.0 482.9,655.9 483.8,656.1 484.7,656.8 485.6,656.4 486.5,656.0 487.4,655.7 488.3,656.0 489.2,656.6 490.1,656.2 491.0,656.5 491.9,656.7 492.8,655.8 493.7,656.5 494.6,655.6 495.5,656.7 496.4,655.9 497.3,656.0 498.2,656.9 499.1,656.1 500.0,656.3" fill="none" stroke="#000" stroke-width="1.4" stroke-linejoin="miter"/><path d="M363.6,521.6 L365.4,524.6 L366.6,520.2 M367.2,523.5 L369.6,526.2 L371,524 M366.8,528.5 L369.2,531.4 L371.2,529.8 M363.8,529.5 L364.6,532.2" fill="none" stroke="#000" stroke-width="1.7"/><line x1="347.5" y1="567" x2="347.5" y2="657" stroke="#000" stroke-width="2"/><line x1="346.8" y1="497.9" x2="346.8" y2="659.8" stroke="#000" stroke-width="1.7"/><line x1="343.6" y1="498.29999999999995" x2="346.8" y2="498.29999999999995" stroke="#000" stroke-width="1.4"/><line x1="343.6" y1="657.0" x2="501.0" y2="657.0" stroke="#000" stroke-width="1.5"/><line x1="344.0" y1="537.7" x2="346.8" y2="537.7" stroke="#000" stroke-width="1.1"/><line x1="344.0" y1="577.5" x2="346.8" y2="577.5" stroke="#000" stroke-width="1.1"/><line x1="344.0" y1="617.2" x2="346.8" y2="617.2" stroke="#000" stroke-width="1.1"/><line x1="346.8" y1="657.0" x2="346.8" y2="659.6" stroke="#000" stroke-width="1.2"/><line x1="385.4" y1="657.0" x2="385.4" y2="659.6" stroke="#000" stroke-width="1.2"/><line x1="423.9" y1="657.0" x2="423.9" y2="659.6" stroke="#000" stroke-width="1.2"/><line x1="462.4" y1="657.0" x2="462.4" y2="659.6" stroke="#000" stroke-width="1.2"/><line x1="501.0" y1="654.5" x2="501.0" y2="659.6" stroke="#000" stroke-width="1.2"/><text x="339.7" y="670.1" font-size="13" textLength="17.2" lengthAdjust="spacingAndGlyphs" stroke="#000" stroke-width="0.2">10</text><text x="358.2" y="666.1" font-size="8.0" textLength="5.4" lengthAdjust="spacingAndGlyphs" stroke="#000" stroke-width="0.25">0</text><text x="378.2" y="670.1" font-size="13" textLength="17.2" lengthAdjust="spacingAndGlyphs" stroke="#000" stroke-width="0.2">10</text><text x="397.6" y="665.9" font-size="7.2" textLength="3.8" lengthAdjust="spacingAndGlyphs" stroke="#000" stroke-width="0.25">1</text><text x="416.8" y="670.1" font-size="13" textLength="17.2" lengthAdjust="spacingAndGlyphs" stroke="#000" stroke-width="0.2">10</text><text x="436.1" y="665.9" font-size="7.2" textLength="4.6" lengthAdjust="spacingAndGlyphs" stroke="#000" stroke-width="0.25">2</text><text x="455.3" y="670.1" font-size="13" textLength="17.2" lengthAdjust="spacingAndGlyphs" stroke="#000" stroke-width="0.2">10</text><text x="474.6" y="665.9" font-size="7.2" textLength="4.6" lengthAdjust="spacingAndGlyphs" stroke="#000" stroke-width="0.25">3</text><text x="493.9" y="670.1" font-size="13" textLength="17.2" lengthAdjust="spacingAndGlyphs" stroke="#000" stroke-width="0.2">10</text><path d="M513.8,664.4 L516.2,661.2 L518.6,664.4 Z" fill="#000" stroke="#000" stroke-width="0.6" stroke-linejoin="round"/></g>
<text transform="translate(86.9,44.9) rotate(-90) scale(0.6,1)" font-size="18.8" stroke="#000" stroke-width="0.25">25</text>
<text transform="translate(87.8,273.6) rotate(-90) scale(0.6,1)" font-size="18.8" stroke="#000" stroke-width="0.25">18</text>
<text transform="translate(87.4,504.9) rotate(-90) scale(0.6,1)" font-size="18.8" stroke="#000" stroke-width="0.25">19</text>
<rect x="74.9" y="195.6" width="12.0" height="4.4" rx="2.2" ry="2.2" fill="none" stroke="#000" stroke-width="1.5"/>
<rect x="75.3" y="424.3" width="12.0" height="4.4" rx="2.2" ry="2.2" fill="none" stroke="#000" stroke-width="1.5"/>
<rect x="74.5" y="654.8" width="12.0" height="4.4" rx="2.2" ry="2.2" fill="none" stroke="#000" stroke-width="1.5"/>
<path d="M334.9,195.6 C337.5,195.6 337.5,200.2 334.9,200.2" fill="none" stroke="#000" stroke-width="1.5"/>
<path d="M335.0,423.6 C337.6,423.6 337.6,428.2 335.0,428.2" fill="none" stroke="#000" stroke-width="1.5"/>
<path d="M335.3,654.3 C337.9,654.3 337.9,658.9 335.3,658.9" fill="none" stroke="#000" stroke-width="1.5"/>
<path d="M334.3,36.8 L337.2,36.4 M336.8,39.6 L336.8,43.2 M334.6,42.2 L337.5,44.1" fill="none" stroke="#000" stroke-width="1.5"/>
<path d="M334.5,262.7 C338.5,262.7 338.5,268.7 334.8,269.2 C338.5,269.7 338,273.7 335,274.2" fill="none" stroke="#000" stroke-width="1.8"/>
<path d="M334.5,492.6 C338.5,492.6 338.5,498.6 334.8,499.1 C338.5,499.6 338,503.6 335,504.1" fill="none" stroke="#000" stroke-width="1.8"/>
</svg></body></html>
